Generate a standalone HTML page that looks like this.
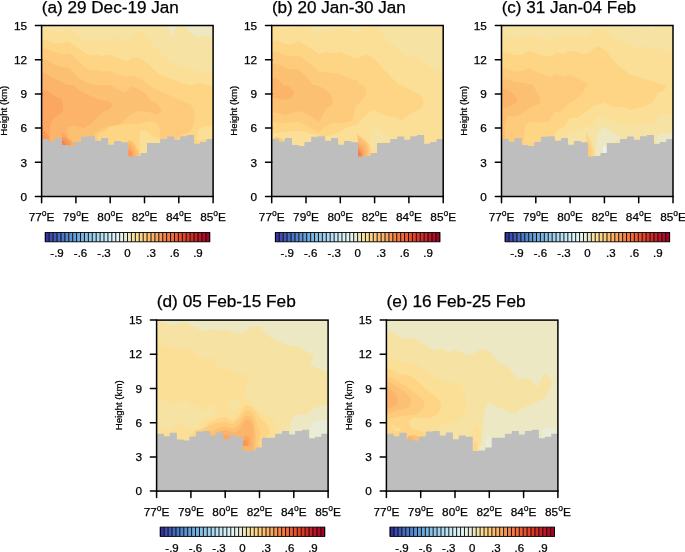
<!DOCTYPE html>
<html><head><meta charset="utf-8"><style>
html,body{margin:0;padding:0;background:#fff;}
svg{display:block;}
text{font-family:"Liberation Sans",Arial,sans-serif;fill:#000;stroke:#000;stroke-width:0.25px;}
.tt{font-size:16px;}
.yl{font-size:11.8px;}
.xl{font-size:11.8px;}
.deg{font-size:8.5px;}
.hl{font-size:9.3px;}
.cl{font-size:10px;}
</style></head><body>
<svg width="685" height="552" viewBox="0 0 685 552">
<rect width="685" height="552" fill="#fff"/>
<g transform="translate(41.6,25.5)">
<clipPath id="clipa"><rect x="0" y="0" width="171.5" height="171.0"/></clipPath>
<g clip-path="url(#clipa)">
<rect x="-2" y="-2" width="175.5" height="175.0" fill="#f6e3a4"/>
<polygon points="125.4,-0.5 125.4,0.8 130.5,11.6 134.3,0.8 134.3,-0.5" fill="#ede8c4"/>
<polygon points="143.2,-0.5 143.2,0.8 150.2,8.4 157.8,11.6 165.4,10.3 174.3,12.2 174.3,-0.5" fill="#ede8c4"/>
<polygon points="-1.2,5.5 1.3,5.2 5.8,4.3 13.4,7.1 21.0,5.9 26.7,2.0 31.2,5.2 37.5,9.7 42.6,13.5 48.3,16.0 54.0,12.8 61.6,15.4 69.3,12.2 74.3,11.6 79.4,14.7 86.4,15.4 90.5,12.8 94.9,6.5 96.8,5.2 101.9,7.8 107.0,14.1 114.6,23.0 121.0,29.3 127.3,35.1 134.9,39.5 142.6,40.1 148.9,43.3 156.5,45.2 164.1,46.5 174.3,48.4 188.4,174.5 -11.6,174.5" fill="#fcdf97"/>
<polygon points="-1.2,14.7 1.3,14.7 5.8,14.5 13.4,17.9 21.0,17.3 26.7,16.0 32.4,19.8 37.5,23.6 42.6,26.8 47.7,30.0 54.0,29.3 61.6,30.6 68.0,28.7 74.3,31.9 80.7,34.4 86.4,35.7 90.5,31.9 96.8,31.9 101.9,34.4 107.0,38.9 112.1,44.0 117.2,48.4 123.5,51.6 129.9,54.1 136.2,55.4 141.3,58.2 150.4,59.7 156.5,57.4 174.7,61.2 188.4,174.5 -11.6,174.5" fill="#fdd584"/>
<polygon points="-1.2,23.0 1.3,23.0 5.8,23.6 13.4,26.8 21.0,28.7 27.3,28.1 32.4,31.3 37.5,36.3 42.6,41.4 48.9,45.2 55.3,44.6 61.6,45.9 68.0,45.2 74.3,48.4 80.7,50.3 86.4,51.6 86.6,50.6 91.2,49.8 98.8,53.6 107.9,59.7 118.5,65.8 129.1,70.3 139.8,74.9 148.9,78.7 152.7,85.5 152.7,94.6 151.1,102.2 147.3,106.7 139.8,109.8 132.2,115.9 108.4,134.5 -11.6,134.5" fill="#fdcb7b"/>
<polygon points="-1.2,33.8 1.3,33.8 5.8,35.1 13.4,39.5 21.0,41.4 27.3,42.0 32.4,47.8 37.5,52.8 42.6,56.0 47.7,57.9 52.7,59.4 68.4,59.7 77.5,64.2 83.6,67.3 89.7,61.2 95.7,62.7 103.3,67.3 109.4,74.9 117.0,79.4 120.0,85.5 115.5,89.3 107.9,87.0 98.8,85.5 89.7,88.5 83.6,94.6 77.5,99.2 68.4,100.7 58.4,104.5 53.4,124.5 -11.6,134.5 -11.6,54.5" fill="#fcc073"/>
<polygon points="-1.2,47.1 1.3,47.1 5.8,49.0 13.4,53.5 19.7,56.0 24.8,59.4 31.1,59.5 37.5,64.6 45.1,68.4 52.7,72.2 60.4,74.7 68.0,76.0 71.2,79.2 68.0,83.6 60.4,87.4 55.3,92.5 50.2,97.6 42.6,102.7 32.4,100.1 26.1,101.4 24.8,105.2 27.4,110.3 22.3,112.8 22.3,124.5 -11.6,134.5 -11.6,44.5" fill="#fcb46a"/>
<polygon points="-1.6,64.7 1.3,64.7 7.0,65.4 13.4,71.1 19.7,73.6 21.6,78.7 21.0,86.3 15.9,90.1 12.1,93.3 9.6,96.5 8.3,102.8 8.9,109.1 7.0,115.5 -11.6,115.5 -11.6,64.5" fill="#fba762"/>
<polygon points="53.4,124.5 53.4,107.5 57.4,105.5 62.4,102.5 68.4,100.5 77.4,99.2 83.6,94.6 89.7,88.5 98.4,85.5 108.4,87.0 115.4,89.5 120.4,86.5 128.4,92.5 133.4,109.5 133.4,124.5" fill="#fdcb7b"/>
<polygon points="55.3,124.5 55.9,107.8 62.9,106.3 68.0,101.2 75.6,99.9 88.3,98.0 93.4,98.5 98.8,97.5 104.4,96.5 110.4,95.5 116.4,98.5 118.4,104.5 118.4,124.5" fill="#fdd584"/>
<polygon points="155.4,114.5 156.4,105.5 161.4,101.5 166.4,100.5 173.4,99.5 173.4,114.5" fill="#fcdf97"/>
<polygon points="97.9,132.5 98.1,110.0 98.8,106.1 102.7,104.4 106.0,106.7 109.3,109.4 113.2,112.0 117.8,113.3 118.9,116.6 118.9,132.5" fill="#fcdf97"/>
<polygon points="20.4,109.0 21.4,107.5 25.4,111.5 30.4,115.5 33.4,120.0 20.4,120.0" fill="#fba762"/>
<polygon points="20.4,112.0 22.4,111.5 25.9,114.5 29.4,120.0 20.4,120.0" fill="#f99856"/>
<polygon points="20.4,115.5 22.4,115.5 24.9,120.0 20.4,120.0" fill="#f4854a"/>
<polygon points="0.4,102.5 3.4,106.5 7.4,111.5 8.4,116.5 0.4,116.5" fill="#f99856"/>
<polygon points="86.6,115.3 88.3,114.6 90.9,116.6 93.5,119.2 95.5,124.5 96.8,128.4 98.1,131.5 86.4,131.5" fill="#fcc073"/>
<polygon points="86.6,117.5 88.9,118.0 91.4,121.0 93.4,125.5 94.9,131.5 86.4,131.5" fill="#fcb46a"/>
<polygon points="86.6,120.5 88.9,121.5 90.9,124.5 92.4,131.5 86.4,131.5" fill="#fba762"/>
<polygon points="86.9,124.5 88.9,125.5 90.4,128.5 90.9,131.5 86.9,131.5" fill="#f99856"/>
<path d="M0,171.0 L0.0,113.6 L7.3,113.6 L7.3,116.2 L13.0,116.2 L13.0,112.6 L20.3,112.6 L20.3,119.4 L27.0,119.4 L27.0,120.4 L32.7,120.4 L32.7,116.5 L39.5,116.5 L39.5,111.3 L46.3,111.3 L46.3,110.8 L53.4,110.8 L53.4,115.3 L59.4,115.3 L59.4,112.5 L66.5,112.5 L66.5,119.2 L72.4,119.2 L72.4,115.5 L79.5,115.5 L79.5,116.7 L86.4,116.7 L86.4,131.0 L92.2,131.0 L92.2,130.4 L98.9,130.4 L98.9,127.4 L105.3,127.4 L105.3,117.6 L118.5,117.6 L118.5,113.6 L125.5,113.6 L125.5,111.0 L132.5,111.0 L132.5,114.3 L138.5,114.3 L138.5,110.8 L145.3,110.8 L145.3,109.6 L152.5,109.6 L152.5,118.2 L158.4,118.2 L158.4,116.6 L164.8,116.6 L164.8,113.6 L171.7,113.6 L171.5,171.0 Z" fill="#bebebe"/>
</g>
<rect x="0" y="0" width="171.5" height="171.0" fill="none" stroke="#000" stroke-width="1.5"/>
<line x1="-6.2" y1="171.00" x2="0" y2="171.00" stroke="#000" stroke-width="1.5" stroke-linecap="round"/>
<text x="-14.6" y="175.20" text-anchor="end" class="yl">0</text>
<line x1="-6.2" y1="136.80" x2="0" y2="136.80" stroke="#000" stroke-width="1.5" stroke-linecap="round"/>
<text x="-14.6" y="141.00" text-anchor="end" class="yl">3</text>
<line x1="-6.2" y1="102.60" x2="0" y2="102.60" stroke="#000" stroke-width="1.5" stroke-linecap="round"/>
<text x="-14.6" y="106.80" text-anchor="end" class="yl">6</text>
<line x1="-6.2" y1="68.40" x2="0" y2="68.40" stroke="#000" stroke-width="1.5" stroke-linecap="round"/>
<text x="-14.6" y="72.60" text-anchor="end" class="yl">9</text>
<line x1="-6.2" y1="34.20" x2="0" y2="34.20" stroke="#000" stroke-width="1.5" stroke-linecap="round"/>
<text x="-14.6" y="38.40" text-anchor="end" class="yl">12</text>
<line x1="-6.2" y1="0.00" x2="0" y2="0.00" stroke="#000" stroke-width="1.5" stroke-linecap="round"/>
<text x="-14.6" y="4.20" text-anchor="end" class="yl">15</text>
<line x1="0.00" y1="171.0" x2="0.00" y2="177.3" stroke="#000" stroke-width="1.5" stroke-linecap="round"/>
<text x="0.00" y="195.5" text-anchor="middle" class="xl">77<tspan class="deg" dy="-5">o</tspan><tspan dy="5">E</tspan></text>
<line x1="34.30" y1="171.0" x2="34.30" y2="177.3" stroke="#000" stroke-width="1.5" stroke-linecap="round"/>
<text x="34.30" y="195.5" text-anchor="middle" class="xl">79<tspan class="deg" dy="-5">o</tspan><tspan dy="5">E</tspan></text>
<line x1="68.60" y1="171.0" x2="68.60" y2="177.3" stroke="#000" stroke-width="1.5" stroke-linecap="round"/>
<text x="68.60" y="195.5" text-anchor="middle" class="xl">80<tspan class="deg" dy="-5">o</tspan><tspan dy="5">E</tspan></text>
<line x1="102.90" y1="171.0" x2="102.90" y2="177.3" stroke="#000" stroke-width="1.5" stroke-linecap="round"/>
<text x="102.90" y="195.5" text-anchor="middle" class="xl">82<tspan class="deg" dy="-5">o</tspan><tspan dy="5">E</tspan></text>
<line x1="137.20" y1="171.0" x2="137.20" y2="177.3" stroke="#000" stroke-width="1.5" stroke-linecap="round"/>
<text x="137.20" y="195.5" text-anchor="middle" class="xl">84<tspan class="deg" dy="-5">o</tspan><tspan dy="5">E</tspan></text>
<line x1="171.50" y1="171.0" x2="171.50" y2="177.3" stroke="#000" stroke-width="1.5" stroke-linecap="round"/>
<text x="171.50" y="195.5" text-anchor="middle" class="xl">85<tspan class="deg" dy="-5">o</tspan><tspan dy="5">E</tspan></text>
<text x="0.2" y="-13" class="tt" textLength="137.0" lengthAdjust="spacingAndGlyphs">(a) 29 Dec-19 Jan</text>
<text transform="translate(-34.3,85.20) rotate(-90)" text-anchor="middle" class="hl" textLength="50" lengthAdjust="spacingAndGlyphs">Height (km)</text>
<rect x="3.70" y="207.0" width="3.96" height="9.3" fill="#3434a4"/>
<rect x="7.61" y="207.0" width="3.96" height="9.3" fill="#3c4cb0"/>
<rect x="11.53" y="207.0" width="3.96" height="9.3" fill="#4058b6"/>
<rect x="15.44" y="207.0" width="3.96" height="9.3" fill="#466abf"/>
<rect x="19.36" y="207.0" width="3.96" height="9.3" fill="#4c78c6"/>
<rect x="23.27" y="207.0" width="3.96" height="9.3" fill="#5386cd"/>
<rect x="27.19" y="207.0" width="3.96" height="9.3" fill="#5a93d4"/>
<rect x="31.10" y="207.0" width="3.96" height="9.3" fill="#63a0d9"/>
<rect x="35.01" y="207.0" width="3.96" height="9.3" fill="#6eabde"/>
<rect x="38.93" y="207.0" width="3.96" height="9.3" fill="#79b6e2"/>
<rect x="42.84" y="207.0" width="3.96" height="9.3" fill="#86c0e6"/>
<rect x="46.76" y="207.0" width="3.96" height="9.3" fill="#92c9ea"/>
<rect x="50.67" y="207.0" width="3.96" height="9.3" fill="#9fd2ee"/>
<rect x="54.59" y="207.0" width="3.96" height="9.3" fill="#acdaf1"/>
<rect x="58.50" y="207.0" width="3.96" height="9.3" fill="#b9e2f4"/>
<rect x="62.41" y="207.0" width="3.96" height="9.3" fill="#c5e9f6"/>
<rect x="66.33" y="207.0" width="3.96" height="9.3" fill="#d0eef7"/>
<rect x="70.24" y="207.0" width="3.96" height="9.3" fill="#daf1f6"/>
<rect x="74.16" y="207.0" width="3.96" height="9.3" fill="#e2f4f3"/>
<rect x="78.07" y="207.0" width="3.96" height="9.3" fill="#e7f3ea"/>
<rect x="81.99" y="207.0" width="3.96" height="9.3" fill="#e9ecd7"/>
<rect x="85.90" y="207.0" width="3.96" height="9.3" fill="#ede8c4"/>
<rect x="89.81" y="207.0" width="3.96" height="9.3" fill="#f6e3a4"/>
<rect x="93.73" y="207.0" width="3.96" height="9.3" fill="#fcdf97"/>
<rect x="97.64" y="207.0" width="3.96" height="9.3" fill="#fdd584"/>
<rect x="101.56" y="207.0" width="3.96" height="9.3" fill="#fdcb7b"/>
<rect x="105.47" y="207.0" width="3.96" height="9.3" fill="#fcc073"/>
<rect x="109.39" y="207.0" width="3.96" height="9.3" fill="#fcb46a"/>
<rect x="113.30" y="207.0" width="3.96" height="9.3" fill="#fba762"/>
<rect x="117.21" y="207.0" width="3.96" height="9.3" fill="#f99856"/>
<rect x="121.13" y="207.0" width="3.96" height="9.3" fill="#f4854a"/>
<rect x="125.04" y="207.0" width="3.96" height="9.3" fill="#f57a44"/>
<rect x="128.96" y="207.0" width="3.96" height="9.3" fill="#f26c3c"/>
<rect x="132.87" y="207.0" width="3.96" height="9.3" fill="#ee5e34"/>
<rect x="136.79" y="207.0" width="3.96" height="9.3" fill="#ea502e"/>
<rect x="140.70" y="207.0" width="3.96" height="9.3" fill="#e4442a"/>
<rect x="144.61" y="207.0" width="3.96" height="9.3" fill="#dc3828"/>
<rect x="148.53" y="207.0" width="3.96" height="9.3" fill="#d22c26"/>
<rect x="152.44" y="207.0" width="3.96" height="9.3" fill="#c82228"/>
<rect x="156.36" y="207.0" width="3.96" height="9.3" fill="#bc1628"/>
<rect x="160.27" y="207.0" width="3.96" height="9.3" fill="#b00c28"/>
<rect x="164.19" y="207.0" width="3.96" height="9.3" fill="#a80024"/>
<line x1="3.70" y1="207.0" x2="3.70" y2="216.3" stroke="#000" stroke-width="0.9"/>
<line x1="7.61" y1="207.0" x2="7.61" y2="216.3" stroke="#000" stroke-width="0.9"/>
<line x1="11.53" y1="207.0" x2="11.53" y2="216.3" stroke="#000" stroke-width="0.9"/>
<line x1="15.44" y1="207.0" x2="15.44" y2="216.3" stroke="#000" stroke-width="0.9"/>
<line x1="19.36" y1="207.0" x2="19.36" y2="216.3" stroke="#000" stroke-width="0.9"/>
<line x1="23.27" y1="207.0" x2="23.27" y2="216.3" stroke="#000" stroke-width="0.9"/>
<line x1="27.19" y1="207.0" x2="27.19" y2="216.3" stroke="#000" stroke-width="0.9"/>
<line x1="31.10" y1="207.0" x2="31.10" y2="216.3" stroke="#000" stroke-width="0.9"/>
<line x1="35.01" y1="207.0" x2="35.01" y2="216.3" stroke="#000" stroke-width="0.9"/>
<line x1="38.93" y1="207.0" x2="38.93" y2="216.3" stroke="#000" stroke-width="0.9"/>
<line x1="42.84" y1="207.0" x2="42.84" y2="216.3" stroke="#000" stroke-width="0.9"/>
<line x1="46.76" y1="207.0" x2="46.76" y2="216.3" stroke="#000" stroke-width="0.9"/>
<line x1="50.67" y1="207.0" x2="50.67" y2="216.3" stroke="#000" stroke-width="0.9"/>
<line x1="54.59" y1="207.0" x2="54.59" y2="216.3" stroke="#000" stroke-width="0.9"/>
<line x1="58.50" y1="207.0" x2="58.50" y2="216.3" stroke="#000" stroke-width="0.9"/>
<line x1="62.41" y1="207.0" x2="62.41" y2="216.3" stroke="#000" stroke-width="0.9"/>
<line x1="66.33" y1="207.0" x2="66.33" y2="216.3" stroke="#000" stroke-width="0.9"/>
<line x1="70.24" y1="207.0" x2="70.24" y2="216.3" stroke="#000" stroke-width="0.9"/>
<line x1="74.16" y1="207.0" x2="74.16" y2="216.3" stroke="#000" stroke-width="0.9"/>
<line x1="78.07" y1="207.0" x2="78.07" y2="216.3" stroke="#000" stroke-width="0.9"/>
<line x1="81.99" y1="207.0" x2="81.99" y2="216.3" stroke="#000" stroke-width="0.9"/>
<line x1="85.90" y1="207.0" x2="85.90" y2="216.3" stroke="#000" stroke-width="0.9"/>
<line x1="89.81" y1="207.0" x2="89.81" y2="216.3" stroke="#000" stroke-width="0.9"/>
<line x1="93.73" y1="207.0" x2="93.73" y2="216.3" stroke="#000" stroke-width="0.9"/>
<line x1="97.64" y1="207.0" x2="97.64" y2="216.3" stroke="#000" stroke-width="0.9"/>
<line x1="101.56" y1="207.0" x2="101.56" y2="216.3" stroke="#000" stroke-width="0.9"/>
<line x1="105.47" y1="207.0" x2="105.47" y2="216.3" stroke="#000" stroke-width="0.9"/>
<line x1="109.39" y1="207.0" x2="109.39" y2="216.3" stroke="#000" stroke-width="0.9"/>
<line x1="113.30" y1="207.0" x2="113.30" y2="216.3" stroke="#000" stroke-width="0.9"/>
<line x1="117.21" y1="207.0" x2="117.21" y2="216.3" stroke="#000" stroke-width="0.9"/>
<line x1="121.13" y1="207.0" x2="121.13" y2="216.3" stroke="#000" stroke-width="0.9"/>
<line x1="125.04" y1="207.0" x2="125.04" y2="216.3" stroke="#000" stroke-width="0.9"/>
<line x1="128.96" y1="207.0" x2="128.96" y2="216.3" stroke="#000" stroke-width="0.9"/>
<line x1="132.87" y1="207.0" x2="132.87" y2="216.3" stroke="#000" stroke-width="0.9"/>
<line x1="136.79" y1="207.0" x2="136.79" y2="216.3" stroke="#000" stroke-width="0.9"/>
<line x1="140.70" y1="207.0" x2="140.70" y2="216.3" stroke="#000" stroke-width="0.9"/>
<line x1="144.61" y1="207.0" x2="144.61" y2="216.3" stroke="#000" stroke-width="0.9"/>
<line x1="148.53" y1="207.0" x2="148.53" y2="216.3" stroke="#000" stroke-width="0.9"/>
<line x1="152.44" y1="207.0" x2="152.44" y2="216.3" stroke="#000" stroke-width="0.9"/>
<line x1="156.36" y1="207.0" x2="156.36" y2="216.3" stroke="#000" stroke-width="0.9"/>
<line x1="160.27" y1="207.0" x2="160.27" y2="216.3" stroke="#000" stroke-width="0.9"/>
<line x1="164.19" y1="207.0" x2="164.19" y2="216.3" stroke="#000" stroke-width="0.9"/>
<line x1="168.10" y1="207.0" x2="168.10" y2="216.3" stroke="#000" stroke-width="0.9"/>
<rect x="3.7" y="207.0" width="164.4" height="9.3" fill="none" stroke="#000" stroke-width="0.9"/>
<text transform="translate(15.44,231.60) scale(1.15,1)" text-anchor="middle" class="cl">-.9</text>
<text transform="translate(38.93,231.60) scale(1.15,1)" text-anchor="middle" class="cl">-.6</text>
<text transform="translate(62.41,231.60) scale(1.15,1)" text-anchor="middle" class="cl">-.3</text>
<text transform="translate(85.90,231.60) scale(1.15,1)" text-anchor="middle" class="cl">0</text>
<text transform="translate(109.39,231.60) scale(1.15,1)" text-anchor="middle" class="cl">.3</text>
<text transform="translate(132.87,231.60) scale(1.15,1)" text-anchor="middle" class="cl">.6</text>
<text transform="translate(156.36,231.60) scale(1.15,1)" text-anchor="middle" class="cl">.9</text>
</g>
<g transform="translate(271.7,25.5)">
<clipPath id="clipb"><rect x="0" y="0" width="171.5" height="171.0"/></clipPath>
<g clip-path="url(#clipb)">
<rect x="-2" y="-2" width="175.5" height="175.0" fill="#f6e3a4"/>
<polygon points="-1.3,1.4 8.2,1.4 14.5,3.9 20.9,1.4 34.9,1.4 41.2,5.2 47.6,9.0 53.9,3.3 61.5,7.1 67.9,3.3 75.5,2.0 83.1,7.1 86.9,6.5 90.4,2.0 105.6,1.4 110.7,8.4 117.1,16.0 125.9,22.4 132.3,28.7 137.4,32.5 142.5,30.0 148.8,33.8 156.4,40.1 162.8,44.0 174.2,45.9 188.3,174.5 -11.7,174.5" fill="#fcdf97"/>
<polygon points="-1.3,15.4 1.2,15.4 6.3,14.7 13.3,18.6 20.9,18.6 27.2,15.4 32.3,18.6 37.4,21.7 42.5,24.9 47.6,28.7 53.9,26.2 61.5,28.1 67.9,26.2 74.2,28.7 80.6,31.9 86.9,32.5 90.4,30.6 95.5,29.3 101.8,32.5 106.9,37.6 112.0,44.0 118.3,50.3 123.4,55.4 127.2,59.4 130.2,59.5 139.7,64.9 149.2,69.0 151.9,74.5 151.2,81.3 145.1,85.3 137.0,89.4 130.2,94.8 123.4,92.1 115.2,90.8 108.4,88.0 103.0,84.0 97.5,86.7 92.1,92.1 85.3,98.9 82.6,100.3 75.5,101.4 67.9,106.5 60.3,109.0 52.6,111.6 47.6,110.3 37.4,107.8 27.2,105.2 13.3,106.5 1.2,107.8 -1.3,107.8" fill="#fdd584"/>
<polygon points="-1.3,26.2 1.2,26.2 6.9,26.8 13.3,30.0 20.9,30.6 27.2,30.0 32.3,33.8 37.4,37.6 42.5,41.4 47.6,45.9 53.9,46.5 61.5,47.8 67.9,48.4 74.2,51.6 80.6,54.1 86.9,55.4 85.3,56.8 90.7,59.5 94.8,63.6 93.5,70.4 88.0,77.2 83.9,81.3 80.6,95.1 70.4,97.6 60.3,97.6 52.6,101.4 47.6,106.5 37.4,101.4 27.2,96.3 13.3,97.6 1.2,96.3 -1.3,96.3" fill="#fdcb7b"/>
<polygon points="-1.3,37.6 1.2,38.2 6.9,38.9 13.3,42.7 20.9,44.0 27.2,44.0 32.3,49.0 37.4,54.1 41.2,59.4 45.0,59.5 52.6,63.3 59.0,68.4 61.5,76.0 59.0,81.1 53.9,83.6 50.1,91.3 47.6,96.3 41.2,92.5 34.9,88.7 27.2,85.5 19.6,87.4 13.3,90.0 6.9,87.4 1.2,86.8 -1.3,86.8" fill="#fcc073"/>
<polygon points="-1.3,52.3 1.2,52.3 5.6,53.6 12.0,59.9 18.3,61.2 22.8,66.3 20.9,71.3 15.8,73.9 9.4,73.9 4.4,72.6 1.2,72.6 -1.3,72.6" fill="#fcb46a"/>
<polygon points="24.7,119.4 26.0,110.3 28.5,107.8 32.3,110.3 33.6,119.4" fill="#fcdf97"/>
<polygon points="65.3,119.4 67.9,109.0 75.5,105.2 86.3,102.7 88.2,119.4" fill="#fcdf97"/>
<polygon points="98.9,122.0 98.9,111.2 100.3,103.0 103.0,100.3 108.4,104.4 115.2,109.8 120.6,112.5 117.9,113.9 105.7,118.0 104.3,122.0" fill="#f6e3a4"/>
<polygon points="1.2,119.4 1.2,112.8 4.4,111.6 9.5,112.8 13.3,115.4 18.4,119.4" fill="#fdcb7b"/>
<polygon points="84.9,107.5 87.8,110.4 92.1,113.3 95.8,117.0 97.9,120.6 98.7,124.9 98.7,132.5 86.6,132.5 86.6,116.8" fill="#fdcb7b"/>
<polygon points="85.6,111.9 86.3,111.9 90.0,114.1 93.6,117.0 95.8,120.6 96.5,124.9 96.5,132.5 86.6,132.5 86.6,116.8" fill="#fcc073"/>
<polygon points="86.2,115.5 86.3,115.5 90.0,117.7 92.9,120.6 94.3,124.2 94.7,132.5 86.6,132.5 86.6,116.8" fill="#fcb46a"/>
<polygon points="84.3,118.4 86.3,118.4 89.2,120.6 91.4,123.5 92.5,127.1 92.9,132.5 84.3,132.5" fill="#fba762"/>
<polygon points="84.3,121.3 86.3,121.3 88.5,123.5 90.3,126.4 91.1,132.5 84.3,132.5" fill="#f99856"/>
<polygon points="84.3,124.2 86.7,124.2 88.2,125.7 89.6,128.6 90.0,132.5 84.3,132.5" fill="#f4854a"/>
<polygon points="84.3,126.4 87.1,126.4 88.5,127.8 89.2,132.5 84.3,132.5" fill="#f57a44"/>
<polygon points="-1.3,59.4 -0.7,59.4" fill="#fdcb7b"/>
<path d="M0,171.0 L0.0,113.6 L7.3,113.6 L7.3,116.2 L13.0,116.2 L13.0,112.6 L20.3,112.6 L20.3,119.4 L27.0,119.4 L27.0,120.4 L32.7,120.4 L32.7,116.5 L39.5,116.5 L39.5,111.3 L46.3,111.3 L46.3,110.8 L53.4,110.8 L53.4,115.3 L59.4,115.3 L59.4,112.5 L66.5,112.5 L66.5,119.2 L72.4,119.2 L72.4,115.5 L79.5,115.5 L79.5,116.7 L86.4,116.7 L86.4,131.0 L92.2,131.0 L92.2,130.4 L98.9,130.4 L98.9,127.4 L105.3,127.4 L105.3,117.6 L118.5,117.6 L118.5,113.6 L125.5,113.6 L125.5,111.0 L132.5,111.0 L132.5,114.3 L138.5,114.3 L138.5,110.8 L145.3,110.8 L145.3,109.6 L152.5,109.6 L152.5,118.2 L158.4,118.2 L158.4,116.6 L164.8,116.6 L164.8,113.6 L171.7,113.6 L171.5,171.0 Z" fill="#bebebe"/>
</g>
<rect x="0" y="0" width="171.5" height="171.0" fill="none" stroke="#000" stroke-width="1.5"/>
<line x1="-6.2" y1="171.00" x2="0" y2="171.00" stroke="#000" stroke-width="1.5" stroke-linecap="round"/>
<text x="-14.6" y="175.20" text-anchor="end" class="yl">0</text>
<line x1="-6.2" y1="136.80" x2="0" y2="136.80" stroke="#000" stroke-width="1.5" stroke-linecap="round"/>
<text x="-14.6" y="141.00" text-anchor="end" class="yl">3</text>
<line x1="-6.2" y1="102.60" x2="0" y2="102.60" stroke="#000" stroke-width="1.5" stroke-linecap="round"/>
<text x="-14.6" y="106.80" text-anchor="end" class="yl">6</text>
<line x1="-6.2" y1="68.40" x2="0" y2="68.40" stroke="#000" stroke-width="1.5" stroke-linecap="round"/>
<text x="-14.6" y="72.60" text-anchor="end" class="yl">9</text>
<line x1="-6.2" y1="34.20" x2="0" y2="34.20" stroke="#000" stroke-width="1.5" stroke-linecap="round"/>
<text x="-14.6" y="38.40" text-anchor="end" class="yl">12</text>
<line x1="-6.2" y1="0.00" x2="0" y2="0.00" stroke="#000" stroke-width="1.5" stroke-linecap="round"/>
<text x="-14.6" y="4.20" text-anchor="end" class="yl">15</text>
<line x1="0.00" y1="171.0" x2="0.00" y2="177.3" stroke="#000" stroke-width="1.5" stroke-linecap="round"/>
<text x="0.00" y="195.5" text-anchor="middle" class="xl">77<tspan class="deg" dy="-5">o</tspan><tspan dy="5">E</tspan></text>
<line x1="34.30" y1="171.0" x2="34.30" y2="177.3" stroke="#000" stroke-width="1.5" stroke-linecap="round"/>
<text x="34.30" y="195.5" text-anchor="middle" class="xl">79<tspan class="deg" dy="-5">o</tspan><tspan dy="5">E</tspan></text>
<line x1="68.60" y1="171.0" x2="68.60" y2="177.3" stroke="#000" stroke-width="1.5" stroke-linecap="round"/>
<text x="68.60" y="195.5" text-anchor="middle" class="xl">80<tspan class="deg" dy="-5">o</tspan><tspan dy="5">E</tspan></text>
<line x1="102.90" y1="171.0" x2="102.90" y2="177.3" stroke="#000" stroke-width="1.5" stroke-linecap="round"/>
<text x="102.90" y="195.5" text-anchor="middle" class="xl">82<tspan class="deg" dy="-5">o</tspan><tspan dy="5">E</tspan></text>
<line x1="137.20" y1="171.0" x2="137.20" y2="177.3" stroke="#000" stroke-width="1.5" stroke-linecap="round"/>
<text x="137.20" y="195.5" text-anchor="middle" class="xl">84<tspan class="deg" dy="-5">o</tspan><tspan dy="5">E</tspan></text>
<line x1="171.50" y1="171.0" x2="171.50" y2="177.3" stroke="#000" stroke-width="1.5" stroke-linecap="round"/>
<text x="171.50" y="195.5" text-anchor="middle" class="xl">85<tspan class="deg" dy="-5">o</tspan><tspan dy="5">E</tspan></text>
<text x="0.2" y="-13" class="tt" textLength="133.8" lengthAdjust="spacingAndGlyphs">(b) 20 Jan-30 Jan</text>
<text transform="translate(-34.3,85.20) rotate(-90)" text-anchor="middle" class="hl" textLength="50" lengthAdjust="spacingAndGlyphs">Height (km)</text>
<rect x="3.70" y="207.0" width="3.96" height="9.3" fill="#3434a4"/>
<rect x="7.61" y="207.0" width="3.96" height="9.3" fill="#3c4cb0"/>
<rect x="11.53" y="207.0" width="3.96" height="9.3" fill="#4058b6"/>
<rect x="15.44" y="207.0" width="3.96" height="9.3" fill="#466abf"/>
<rect x="19.36" y="207.0" width="3.96" height="9.3" fill="#4c78c6"/>
<rect x="23.27" y="207.0" width="3.96" height="9.3" fill="#5386cd"/>
<rect x="27.19" y="207.0" width="3.96" height="9.3" fill="#5a93d4"/>
<rect x="31.10" y="207.0" width="3.96" height="9.3" fill="#63a0d9"/>
<rect x="35.01" y="207.0" width="3.96" height="9.3" fill="#6eabde"/>
<rect x="38.93" y="207.0" width="3.96" height="9.3" fill="#79b6e2"/>
<rect x="42.84" y="207.0" width="3.96" height="9.3" fill="#86c0e6"/>
<rect x="46.76" y="207.0" width="3.96" height="9.3" fill="#92c9ea"/>
<rect x="50.67" y="207.0" width="3.96" height="9.3" fill="#9fd2ee"/>
<rect x="54.59" y="207.0" width="3.96" height="9.3" fill="#acdaf1"/>
<rect x="58.50" y="207.0" width="3.96" height="9.3" fill="#b9e2f4"/>
<rect x="62.41" y="207.0" width="3.96" height="9.3" fill="#c5e9f6"/>
<rect x="66.33" y="207.0" width="3.96" height="9.3" fill="#d0eef7"/>
<rect x="70.24" y="207.0" width="3.96" height="9.3" fill="#daf1f6"/>
<rect x="74.16" y="207.0" width="3.96" height="9.3" fill="#e2f4f3"/>
<rect x="78.07" y="207.0" width="3.96" height="9.3" fill="#e7f3ea"/>
<rect x="81.99" y="207.0" width="3.96" height="9.3" fill="#e9ecd7"/>
<rect x="85.90" y="207.0" width="3.96" height="9.3" fill="#ede8c4"/>
<rect x="89.81" y="207.0" width="3.96" height="9.3" fill="#f6e3a4"/>
<rect x="93.73" y="207.0" width="3.96" height="9.3" fill="#fcdf97"/>
<rect x="97.64" y="207.0" width="3.96" height="9.3" fill="#fdd584"/>
<rect x="101.56" y="207.0" width="3.96" height="9.3" fill="#fdcb7b"/>
<rect x="105.47" y="207.0" width="3.96" height="9.3" fill="#fcc073"/>
<rect x="109.39" y="207.0" width="3.96" height="9.3" fill="#fcb46a"/>
<rect x="113.30" y="207.0" width="3.96" height="9.3" fill="#fba762"/>
<rect x="117.21" y="207.0" width="3.96" height="9.3" fill="#f99856"/>
<rect x="121.13" y="207.0" width="3.96" height="9.3" fill="#f4854a"/>
<rect x="125.04" y="207.0" width="3.96" height="9.3" fill="#f57a44"/>
<rect x="128.96" y="207.0" width="3.96" height="9.3" fill="#f26c3c"/>
<rect x="132.87" y="207.0" width="3.96" height="9.3" fill="#ee5e34"/>
<rect x="136.79" y="207.0" width="3.96" height="9.3" fill="#ea502e"/>
<rect x="140.70" y="207.0" width="3.96" height="9.3" fill="#e4442a"/>
<rect x="144.61" y="207.0" width="3.96" height="9.3" fill="#dc3828"/>
<rect x="148.53" y="207.0" width="3.96" height="9.3" fill="#d22c26"/>
<rect x="152.44" y="207.0" width="3.96" height="9.3" fill="#c82228"/>
<rect x="156.36" y="207.0" width="3.96" height="9.3" fill="#bc1628"/>
<rect x="160.27" y="207.0" width="3.96" height="9.3" fill="#b00c28"/>
<rect x="164.19" y="207.0" width="3.96" height="9.3" fill="#a80024"/>
<line x1="3.70" y1="207.0" x2="3.70" y2="216.3" stroke="#000" stroke-width="0.9"/>
<line x1="7.61" y1="207.0" x2="7.61" y2="216.3" stroke="#000" stroke-width="0.9"/>
<line x1="11.53" y1="207.0" x2="11.53" y2="216.3" stroke="#000" stroke-width="0.9"/>
<line x1="15.44" y1="207.0" x2="15.44" y2="216.3" stroke="#000" stroke-width="0.9"/>
<line x1="19.36" y1="207.0" x2="19.36" y2="216.3" stroke="#000" stroke-width="0.9"/>
<line x1="23.27" y1="207.0" x2="23.27" y2="216.3" stroke="#000" stroke-width="0.9"/>
<line x1="27.19" y1="207.0" x2="27.19" y2="216.3" stroke="#000" stroke-width="0.9"/>
<line x1="31.10" y1="207.0" x2="31.10" y2="216.3" stroke="#000" stroke-width="0.9"/>
<line x1="35.01" y1="207.0" x2="35.01" y2="216.3" stroke="#000" stroke-width="0.9"/>
<line x1="38.93" y1="207.0" x2="38.93" y2="216.3" stroke="#000" stroke-width="0.9"/>
<line x1="42.84" y1="207.0" x2="42.84" y2="216.3" stroke="#000" stroke-width="0.9"/>
<line x1="46.76" y1="207.0" x2="46.76" y2="216.3" stroke="#000" stroke-width="0.9"/>
<line x1="50.67" y1="207.0" x2="50.67" y2="216.3" stroke="#000" stroke-width="0.9"/>
<line x1="54.59" y1="207.0" x2="54.59" y2="216.3" stroke="#000" stroke-width="0.9"/>
<line x1="58.50" y1="207.0" x2="58.50" y2="216.3" stroke="#000" stroke-width="0.9"/>
<line x1="62.41" y1="207.0" x2="62.41" y2="216.3" stroke="#000" stroke-width="0.9"/>
<line x1="66.33" y1="207.0" x2="66.33" y2="216.3" stroke="#000" stroke-width="0.9"/>
<line x1="70.24" y1="207.0" x2="70.24" y2="216.3" stroke="#000" stroke-width="0.9"/>
<line x1="74.16" y1="207.0" x2="74.16" y2="216.3" stroke="#000" stroke-width="0.9"/>
<line x1="78.07" y1="207.0" x2="78.07" y2="216.3" stroke="#000" stroke-width="0.9"/>
<line x1="81.99" y1="207.0" x2="81.99" y2="216.3" stroke="#000" stroke-width="0.9"/>
<line x1="85.90" y1="207.0" x2="85.90" y2="216.3" stroke="#000" stroke-width="0.9"/>
<line x1="89.81" y1="207.0" x2="89.81" y2="216.3" stroke="#000" stroke-width="0.9"/>
<line x1="93.73" y1="207.0" x2="93.73" y2="216.3" stroke="#000" stroke-width="0.9"/>
<line x1="97.64" y1="207.0" x2="97.64" y2="216.3" stroke="#000" stroke-width="0.9"/>
<line x1="101.56" y1="207.0" x2="101.56" y2="216.3" stroke="#000" stroke-width="0.9"/>
<line x1="105.47" y1="207.0" x2="105.47" y2="216.3" stroke="#000" stroke-width="0.9"/>
<line x1="109.39" y1="207.0" x2="109.39" y2="216.3" stroke="#000" stroke-width="0.9"/>
<line x1="113.30" y1="207.0" x2="113.30" y2="216.3" stroke="#000" stroke-width="0.9"/>
<line x1="117.21" y1="207.0" x2="117.21" y2="216.3" stroke="#000" stroke-width="0.9"/>
<line x1="121.13" y1="207.0" x2="121.13" y2="216.3" stroke="#000" stroke-width="0.9"/>
<line x1="125.04" y1="207.0" x2="125.04" y2="216.3" stroke="#000" stroke-width="0.9"/>
<line x1="128.96" y1="207.0" x2="128.96" y2="216.3" stroke="#000" stroke-width="0.9"/>
<line x1="132.87" y1="207.0" x2="132.87" y2="216.3" stroke="#000" stroke-width="0.9"/>
<line x1="136.79" y1="207.0" x2="136.79" y2="216.3" stroke="#000" stroke-width="0.9"/>
<line x1="140.70" y1="207.0" x2="140.70" y2="216.3" stroke="#000" stroke-width="0.9"/>
<line x1="144.61" y1="207.0" x2="144.61" y2="216.3" stroke="#000" stroke-width="0.9"/>
<line x1="148.53" y1="207.0" x2="148.53" y2="216.3" stroke="#000" stroke-width="0.9"/>
<line x1="152.44" y1="207.0" x2="152.44" y2="216.3" stroke="#000" stroke-width="0.9"/>
<line x1="156.36" y1="207.0" x2="156.36" y2="216.3" stroke="#000" stroke-width="0.9"/>
<line x1="160.27" y1="207.0" x2="160.27" y2="216.3" stroke="#000" stroke-width="0.9"/>
<line x1="164.19" y1="207.0" x2="164.19" y2="216.3" stroke="#000" stroke-width="0.9"/>
<line x1="168.10" y1="207.0" x2="168.10" y2="216.3" stroke="#000" stroke-width="0.9"/>
<rect x="3.7" y="207.0" width="164.4" height="9.3" fill="none" stroke="#000" stroke-width="0.9"/>
<text transform="translate(15.44,231.60) scale(1.15,1)" text-anchor="middle" class="cl">-.9</text>
<text transform="translate(38.93,231.60) scale(1.15,1)" text-anchor="middle" class="cl">-.6</text>
<text transform="translate(62.41,231.60) scale(1.15,1)" text-anchor="middle" class="cl">-.3</text>
<text transform="translate(85.90,231.60) scale(1.15,1)" text-anchor="middle" class="cl">0</text>
<text transform="translate(109.39,231.60) scale(1.15,1)" text-anchor="middle" class="cl">.3</text>
<text transform="translate(132.87,231.60) scale(1.15,1)" text-anchor="middle" class="cl">.6</text>
<text transform="translate(156.36,231.60) scale(1.15,1)" text-anchor="middle" class="cl">.9</text>
</g>
<g transform="translate(501.5,25.5)">
<clipPath id="clipc"><rect x="0" y="0" width="171.5" height="171.0"/></clipPath>
<g clip-path="url(#clipc)">
<rect x="-2" y="-2" width="175.5" height="175.0" fill="#f6e3a4"/>
<polygon points="127.4,-0.5 127.4,1.4 130.6,2.3 133.8,1.4 133.8,-0.5" fill="#ede8c4"/>
<polygon points="146.5,-0.5 146.5,1.4 150.3,3.3 152.8,1.4 152.8,-0.5" fill="#ede8c4"/>
<polygon points="-1.1,12.2 1.4,12.2 6.5,11.6 13.5,14.1 21.1,11.6 27.4,8.4 33.8,10.9 41.4,13.5 47.8,14.1 55.4,9.7 61.7,11.6 68.7,7.8 75.7,9.7 82.1,10.3 87.1,9.0 90.6,5.2 95.7,3.3 102.0,3.9 107.1,8.4 113.4,12.2 119.8,14.7 126.1,18.6 131.2,21.1 136.3,21.7 142.7,20.5 149.0,22.4 154.1,23.0 161.7,23.6 166.8,24.9 174.4,26.2 188.5,174.5 -21.5,174.5" fill="#fcdf97"/>
<polygon points="-1.1,27.4 1.4,27.4 6.5,26.8 13.5,30.0 21.1,28.7 27.4,24.9 33.8,27.4 41.4,30.0 47.8,31.3 55.4,26.8 61.7,28.7 68.7,24.9 75.7,26.8 82.1,28.7 87.1,27.4 90.6,24.3 95.7,20.5 100.7,22.4 105.8,26.8 110.9,33.8 116.0,38.9 122.3,44.0 128.7,49.0 136.3,51.6 142.7,52.8 149.0,55.4 156.6,57.9 166.8,59.4 164.3,59.5 163.0,64.9 156.2,67.7 152.1,75.8 145.3,79.9 137.2,82.6 129.0,84.6 119.5,81.3 110.0,81.3 103.2,77.2 93.7,79.9 85.5,85.3 86.5,84.9 75.7,92.5 68.1,92.5 63.0,101.4 56.7,104.0 52.8,109.0 50.3,112.8 47.8,119.4 47.8,125.5 -21.5,174.5" fill="#fdd584"/>
<polygon points="-1.1,43.3 1.4,43.3 6.5,43.3 13.5,46.5 21.1,45.2 27.4,42.7 33.8,45.9 41.4,49.0 47.8,51.6 55.4,48.4 61.7,50.9 68.7,49.0 75.7,52.8 82.1,56.0 87.1,57.9 83.3,63.3 78.2,70.9 66.8,78.6 59.2,86.2 52.8,86.2 47.8,96.3 37.6,97.0 27.4,96.3 23.6,101.4 22.4,112.8 21.1,125.5 -21.5,174.5" fill="#fdcb7b"/>
<polygon points="-1.1,54.1 1.4,54.1 6.5,54.1 13.5,56.7 21.1,57.3 27.4,58.6 31.3,59.4 35.1,65.9 38.9,72.2 37.6,78.6 31.3,81.1 24.9,84.9 18.6,88.7 12.2,91.3 7.1,90.0 4.6,95.1 3.3,101.4 3.3,110.3 4.6,114.1 5.2,125.5 -21.5,174.5" fill="#fcc073"/>
<polygon points="-1.1,63.3 1.4,63.3 7.1,64.6 13.5,69.7 16.0,74.7 13.5,78.6 7.1,81.1 1.4,82.4 -1.1,82.4" fill="#fcb46a"/>
<polygon points="84.8,135.6 85.5,108.4 89.6,104.4 96.4,90.8 104.5,93.5 112.7,96.2 120.8,98.9 129.0,101.6 137.2,100.3 145.3,98.9 153.5,96.2 157.6,90.8 164.3,88.7 180.7,88.7 180.7,135.6" fill="#f6e3a4"/>
<polygon points="64.9,119.4 65.2,112.8 66.6,106.2 73.2,105.0 81.0,103.7 86.2,100.9 89.5,99.6 89.5,130.6 64.9,130.6" fill="#f6e3a4"/>
<polygon points="93.7,135.6 95.0,113.9 97.7,105.7 101.8,101.6 108.6,105.7 115.4,109.8 120.8,112.5 112.7,116.6 105.9,119.3 104.5,135.6" fill="#ede8c4"/>
<polygon points="153.5,120.7 156.2,109.8 161.6,108.4 170.5,107.8 180.7,107.1 180.7,120.7" fill="#ede8c4"/>
<polygon points="101.1,130.2 101.5,122.0 103.2,119.3 105.2,123.4 105.6,130.2" fill="#e7f3ea"/>
<polygon points="84.8,135.6 84.8,107.1 86.9,111.2 89.6,116.6 91.6,123.4 93.0,135.6" fill="#fdd584"/>
<polygon points="85.5,135.6 86.2,119.3 87.5,118.0 88.9,123.4 90.3,135.6" fill="#fdcb7b"/>
<polygon points="18.6,119.4 19.2,100.1 20.5,101.4 21.1,110.3 21.7,119.4" fill="#fdcb7b"/>
<path d="M0,171.0 L0.0,113.6 L7.3,113.6 L7.3,116.2 L13.0,116.2 L13.0,112.6 L20.3,112.6 L20.3,119.4 L27.0,119.4 L27.0,120.4 L32.7,120.4 L32.7,116.5 L39.5,116.5 L39.5,111.3 L46.3,111.3 L46.3,110.8 L53.4,110.8 L53.4,115.3 L59.4,115.3 L59.4,112.5 L66.5,112.5 L66.5,119.2 L72.4,119.2 L72.4,115.5 L79.5,115.5 L79.5,116.7 L86.4,116.7 L86.4,131.0 L92.2,131.0 L92.2,130.4 L98.9,130.4 L98.9,127.4 L105.3,127.4 L105.3,117.6 L118.5,117.6 L118.5,113.6 L125.5,113.6 L125.5,111.0 L132.5,111.0 L132.5,114.3 L138.5,114.3 L138.5,110.8 L145.3,110.8 L145.3,109.6 L152.5,109.6 L152.5,118.2 L158.4,118.2 L158.4,116.6 L164.8,116.6 L164.8,113.6 L171.7,113.6 L171.5,171.0 Z" fill="#bebebe"/>
</g>
<rect x="0" y="0" width="171.5" height="171.0" fill="none" stroke="#000" stroke-width="1.5"/>
<line x1="-6.2" y1="171.00" x2="0" y2="171.00" stroke="#000" stroke-width="1.5" stroke-linecap="round"/>
<text x="-14.6" y="175.20" text-anchor="end" class="yl">0</text>
<line x1="-6.2" y1="136.80" x2="0" y2="136.80" stroke="#000" stroke-width="1.5" stroke-linecap="round"/>
<text x="-14.6" y="141.00" text-anchor="end" class="yl">3</text>
<line x1="-6.2" y1="102.60" x2="0" y2="102.60" stroke="#000" stroke-width="1.5" stroke-linecap="round"/>
<text x="-14.6" y="106.80" text-anchor="end" class="yl">6</text>
<line x1="-6.2" y1="68.40" x2="0" y2="68.40" stroke="#000" stroke-width="1.5" stroke-linecap="round"/>
<text x="-14.6" y="72.60" text-anchor="end" class="yl">9</text>
<line x1="-6.2" y1="34.20" x2="0" y2="34.20" stroke="#000" stroke-width="1.5" stroke-linecap="round"/>
<text x="-14.6" y="38.40" text-anchor="end" class="yl">12</text>
<line x1="-6.2" y1="0.00" x2="0" y2="0.00" stroke="#000" stroke-width="1.5" stroke-linecap="round"/>
<text x="-14.6" y="4.20" text-anchor="end" class="yl">15</text>
<line x1="0.00" y1="171.0" x2="0.00" y2="177.3" stroke="#000" stroke-width="1.5" stroke-linecap="round"/>
<text x="0.00" y="195.5" text-anchor="middle" class="xl">77<tspan class="deg" dy="-5">o</tspan><tspan dy="5">E</tspan></text>
<line x1="34.30" y1="171.0" x2="34.30" y2="177.3" stroke="#000" stroke-width="1.5" stroke-linecap="round"/>
<text x="34.30" y="195.5" text-anchor="middle" class="xl">79<tspan class="deg" dy="-5">o</tspan><tspan dy="5">E</tspan></text>
<line x1="68.60" y1="171.0" x2="68.60" y2="177.3" stroke="#000" stroke-width="1.5" stroke-linecap="round"/>
<text x="68.60" y="195.5" text-anchor="middle" class="xl">80<tspan class="deg" dy="-5">o</tspan><tspan dy="5">E</tspan></text>
<line x1="102.90" y1="171.0" x2="102.90" y2="177.3" stroke="#000" stroke-width="1.5" stroke-linecap="round"/>
<text x="102.90" y="195.5" text-anchor="middle" class="xl">82<tspan class="deg" dy="-5">o</tspan><tspan dy="5">E</tspan></text>
<line x1="137.20" y1="171.0" x2="137.20" y2="177.3" stroke="#000" stroke-width="1.5" stroke-linecap="round"/>
<text x="137.20" y="195.5" text-anchor="middle" class="xl">84<tspan class="deg" dy="-5">o</tspan><tspan dy="5">E</tspan></text>
<line x1="171.50" y1="171.0" x2="171.50" y2="177.3" stroke="#000" stroke-width="1.5" stroke-linecap="round"/>
<text x="171.50" y="195.5" text-anchor="middle" class="xl">85<tspan class="deg" dy="-5">o</tspan><tspan dy="5">E</tspan></text>
<text x="0.2" y="-13" class="tt" textLength="134.4" lengthAdjust="spacingAndGlyphs">(c) 31 Jan-04 Feb</text>
<text transform="translate(-34.3,85.20) rotate(-90)" text-anchor="middle" class="hl" textLength="50" lengthAdjust="spacingAndGlyphs">Height (km)</text>
<rect x="3.70" y="207.0" width="3.96" height="9.3" fill="#3434a4"/>
<rect x="7.61" y="207.0" width="3.96" height="9.3" fill="#3c4cb0"/>
<rect x="11.53" y="207.0" width="3.96" height="9.3" fill="#4058b6"/>
<rect x="15.44" y="207.0" width="3.96" height="9.3" fill="#466abf"/>
<rect x="19.36" y="207.0" width="3.96" height="9.3" fill="#4c78c6"/>
<rect x="23.27" y="207.0" width="3.96" height="9.3" fill="#5386cd"/>
<rect x="27.19" y="207.0" width="3.96" height="9.3" fill="#5a93d4"/>
<rect x="31.10" y="207.0" width="3.96" height="9.3" fill="#63a0d9"/>
<rect x="35.01" y="207.0" width="3.96" height="9.3" fill="#6eabde"/>
<rect x="38.93" y="207.0" width="3.96" height="9.3" fill="#79b6e2"/>
<rect x="42.84" y="207.0" width="3.96" height="9.3" fill="#86c0e6"/>
<rect x="46.76" y="207.0" width="3.96" height="9.3" fill="#92c9ea"/>
<rect x="50.67" y="207.0" width="3.96" height="9.3" fill="#9fd2ee"/>
<rect x="54.59" y="207.0" width="3.96" height="9.3" fill="#acdaf1"/>
<rect x="58.50" y="207.0" width="3.96" height="9.3" fill="#b9e2f4"/>
<rect x="62.41" y="207.0" width="3.96" height="9.3" fill="#c5e9f6"/>
<rect x="66.33" y="207.0" width="3.96" height="9.3" fill="#d0eef7"/>
<rect x="70.24" y="207.0" width="3.96" height="9.3" fill="#daf1f6"/>
<rect x="74.16" y="207.0" width="3.96" height="9.3" fill="#e2f4f3"/>
<rect x="78.07" y="207.0" width="3.96" height="9.3" fill="#e7f3ea"/>
<rect x="81.99" y="207.0" width="3.96" height="9.3" fill="#e9ecd7"/>
<rect x="85.90" y="207.0" width="3.96" height="9.3" fill="#ede8c4"/>
<rect x="89.81" y="207.0" width="3.96" height="9.3" fill="#f6e3a4"/>
<rect x="93.73" y="207.0" width="3.96" height="9.3" fill="#fcdf97"/>
<rect x="97.64" y="207.0" width="3.96" height="9.3" fill="#fdd584"/>
<rect x="101.56" y="207.0" width="3.96" height="9.3" fill="#fdcb7b"/>
<rect x="105.47" y="207.0" width="3.96" height="9.3" fill="#fcc073"/>
<rect x="109.39" y="207.0" width="3.96" height="9.3" fill="#fcb46a"/>
<rect x="113.30" y="207.0" width="3.96" height="9.3" fill="#fba762"/>
<rect x="117.21" y="207.0" width="3.96" height="9.3" fill="#f99856"/>
<rect x="121.13" y="207.0" width="3.96" height="9.3" fill="#f4854a"/>
<rect x="125.04" y="207.0" width="3.96" height="9.3" fill="#f57a44"/>
<rect x="128.96" y="207.0" width="3.96" height="9.3" fill="#f26c3c"/>
<rect x="132.87" y="207.0" width="3.96" height="9.3" fill="#ee5e34"/>
<rect x="136.79" y="207.0" width="3.96" height="9.3" fill="#ea502e"/>
<rect x="140.70" y="207.0" width="3.96" height="9.3" fill="#e4442a"/>
<rect x="144.61" y="207.0" width="3.96" height="9.3" fill="#dc3828"/>
<rect x="148.53" y="207.0" width="3.96" height="9.3" fill="#d22c26"/>
<rect x="152.44" y="207.0" width="3.96" height="9.3" fill="#c82228"/>
<rect x="156.36" y="207.0" width="3.96" height="9.3" fill="#bc1628"/>
<rect x="160.27" y="207.0" width="3.96" height="9.3" fill="#b00c28"/>
<rect x="164.19" y="207.0" width="3.96" height="9.3" fill="#a80024"/>
<line x1="3.70" y1="207.0" x2="3.70" y2="216.3" stroke="#000" stroke-width="0.9"/>
<line x1="7.61" y1="207.0" x2="7.61" y2="216.3" stroke="#000" stroke-width="0.9"/>
<line x1="11.53" y1="207.0" x2="11.53" y2="216.3" stroke="#000" stroke-width="0.9"/>
<line x1="15.44" y1="207.0" x2="15.44" y2="216.3" stroke="#000" stroke-width="0.9"/>
<line x1="19.36" y1="207.0" x2="19.36" y2="216.3" stroke="#000" stroke-width="0.9"/>
<line x1="23.27" y1="207.0" x2="23.27" y2="216.3" stroke="#000" stroke-width="0.9"/>
<line x1="27.19" y1="207.0" x2="27.19" y2="216.3" stroke="#000" stroke-width="0.9"/>
<line x1="31.10" y1="207.0" x2="31.10" y2="216.3" stroke="#000" stroke-width="0.9"/>
<line x1="35.01" y1="207.0" x2="35.01" y2="216.3" stroke="#000" stroke-width="0.9"/>
<line x1="38.93" y1="207.0" x2="38.93" y2="216.3" stroke="#000" stroke-width="0.9"/>
<line x1="42.84" y1="207.0" x2="42.84" y2="216.3" stroke="#000" stroke-width="0.9"/>
<line x1="46.76" y1="207.0" x2="46.76" y2="216.3" stroke="#000" stroke-width="0.9"/>
<line x1="50.67" y1="207.0" x2="50.67" y2="216.3" stroke="#000" stroke-width="0.9"/>
<line x1="54.59" y1="207.0" x2="54.59" y2="216.3" stroke="#000" stroke-width="0.9"/>
<line x1="58.50" y1="207.0" x2="58.50" y2="216.3" stroke="#000" stroke-width="0.9"/>
<line x1="62.41" y1="207.0" x2="62.41" y2="216.3" stroke="#000" stroke-width="0.9"/>
<line x1="66.33" y1="207.0" x2="66.33" y2="216.3" stroke="#000" stroke-width="0.9"/>
<line x1="70.24" y1="207.0" x2="70.24" y2="216.3" stroke="#000" stroke-width="0.9"/>
<line x1="74.16" y1="207.0" x2="74.16" y2="216.3" stroke="#000" stroke-width="0.9"/>
<line x1="78.07" y1="207.0" x2="78.07" y2="216.3" stroke="#000" stroke-width="0.9"/>
<line x1="81.99" y1="207.0" x2="81.99" y2="216.3" stroke="#000" stroke-width="0.9"/>
<line x1="85.90" y1="207.0" x2="85.90" y2="216.3" stroke="#000" stroke-width="0.9"/>
<line x1="89.81" y1="207.0" x2="89.81" y2="216.3" stroke="#000" stroke-width="0.9"/>
<line x1="93.73" y1="207.0" x2="93.73" y2="216.3" stroke="#000" stroke-width="0.9"/>
<line x1="97.64" y1="207.0" x2="97.64" y2="216.3" stroke="#000" stroke-width="0.9"/>
<line x1="101.56" y1="207.0" x2="101.56" y2="216.3" stroke="#000" stroke-width="0.9"/>
<line x1="105.47" y1="207.0" x2="105.47" y2="216.3" stroke="#000" stroke-width="0.9"/>
<line x1="109.39" y1="207.0" x2="109.39" y2="216.3" stroke="#000" stroke-width="0.9"/>
<line x1="113.30" y1="207.0" x2="113.30" y2="216.3" stroke="#000" stroke-width="0.9"/>
<line x1="117.21" y1="207.0" x2="117.21" y2="216.3" stroke="#000" stroke-width="0.9"/>
<line x1="121.13" y1="207.0" x2="121.13" y2="216.3" stroke="#000" stroke-width="0.9"/>
<line x1="125.04" y1="207.0" x2="125.04" y2="216.3" stroke="#000" stroke-width="0.9"/>
<line x1="128.96" y1="207.0" x2="128.96" y2="216.3" stroke="#000" stroke-width="0.9"/>
<line x1="132.87" y1="207.0" x2="132.87" y2="216.3" stroke="#000" stroke-width="0.9"/>
<line x1="136.79" y1="207.0" x2="136.79" y2="216.3" stroke="#000" stroke-width="0.9"/>
<line x1="140.70" y1="207.0" x2="140.70" y2="216.3" stroke="#000" stroke-width="0.9"/>
<line x1="144.61" y1="207.0" x2="144.61" y2="216.3" stroke="#000" stroke-width="0.9"/>
<line x1="148.53" y1="207.0" x2="148.53" y2="216.3" stroke="#000" stroke-width="0.9"/>
<line x1="152.44" y1="207.0" x2="152.44" y2="216.3" stroke="#000" stroke-width="0.9"/>
<line x1="156.36" y1="207.0" x2="156.36" y2="216.3" stroke="#000" stroke-width="0.9"/>
<line x1="160.27" y1="207.0" x2="160.27" y2="216.3" stroke="#000" stroke-width="0.9"/>
<line x1="164.19" y1="207.0" x2="164.19" y2="216.3" stroke="#000" stroke-width="0.9"/>
<line x1="168.10" y1="207.0" x2="168.10" y2="216.3" stroke="#000" stroke-width="0.9"/>
<rect x="3.7" y="207.0" width="164.4" height="9.3" fill="none" stroke="#000" stroke-width="0.9"/>
<text transform="translate(15.44,231.60) scale(1.15,1)" text-anchor="middle" class="cl">-.9</text>
<text transform="translate(38.93,231.60) scale(1.15,1)" text-anchor="middle" class="cl">-.6</text>
<text transform="translate(62.41,231.60) scale(1.15,1)" text-anchor="middle" class="cl">-.3</text>
<text transform="translate(85.90,231.60) scale(1.15,1)" text-anchor="middle" class="cl">0</text>
<text transform="translate(109.39,231.60) scale(1.15,1)" text-anchor="middle" class="cl">.3</text>
<text transform="translate(132.87,231.60) scale(1.15,1)" text-anchor="middle" class="cl">.6</text>
<text transform="translate(156.36,231.60) scale(1.15,1)" text-anchor="middle" class="cl">.9</text>
</g>
<g transform="translate(156.6,320.1)">
<clipPath id="clipd"><rect x="0" y="0" width="171.5" height="171.0"/></clipPath>
<g clip-path="url(#clipd)">
<rect x="-2" y="-2" width="175.5" height="175.0" fill="#ede8c4"/>
<polygon points="-1.2,1.8 5.8,1.8 14.6,5.0 21.0,3.7 27.3,1.8 35.0,5.6 41.3,8.8 47.7,12.0 55.3,8.2 61.6,11.3 68.6,8.8 75.6,11.3 82.0,13.2 87.0,12.0 91.8,8.8 98.1,6.3 103.2,6.3 108.3,12.6 114.6,17.7 122.2,20.9 129.9,24.7 136.2,25.9 143.8,26.6 148.9,30.4 157.2,35.5 154.0,41.8 154.0,45.0 161.6,48.2 169.2,50.7 174.3,52.0 183.4,179.9 -16.6,179.9" fill="#f6e3a4"/>
<polygon points="-1.2,24.7 1.3,24.7 6.4,24.0 13.4,28.5 21.0,28.5 26.7,26.6 32.4,29.7 37.5,32.9 42.6,36.1 47.7,39.3 54.0,37.4 57.8,39.3 61.6,49.4 68.0,47.5 75.6,50.7 82.0,53.9 87.0,54.5 90.5,54.5 93.0,59.8 93.0,59.9 89.2,67.5 86.7,75.1 90.5,79.0 95.6,84.0 100.6,89.1 108.3,95.5 115.9,98.0 119.7,104.4 119.7,110.7 118.4,119.6 -16.6,179.9" fill="#fcdf97"/>
<polygon points="-1.2,77.7 1.3,77.7 7.0,79.0 13.4,82.8 21.0,83.4 27.3,79.0 33.7,82.8 40.0,86.6 47.0,91.0 52.7,85.3 55.3,84.7 59.1,89.1 59.1,92.9 55.3,95.5 50.2,96.7 46.4,101.8 40.0,108.2 33.7,108.8 27.3,106.9 21.0,103.1 17.2,106.9 13.4,110.1 7.0,109.4 1.3,110.7 -1.2,110.7" fill="#f6e3a4"/>
<polygon points="70.5,85.3 75.6,80.2 83.2,80.2 83.2,85.3 78.1,90.4 74.3,91.0" fill="#f6e3a4"/>
<polygon points="132.4,119.6 133.7,105.6 136.2,98.0 140.0,95.5 145.1,94.2 150.2,95.5 154.0,90.4 159.1,87.2 166.7,85.9 174.3,85.3 174.3,119.6" fill="#ede8c4"/>
<polygon points="152.7,119.6 154.0,108.2 156.5,101.8 161.6,100.5 170.5,99.3 174.3,99.3 174.3,119.6" fill="#e9ecd7"/>
<polygon points="36.1,113.4 38.4,109.9 45.4,108.8 53.6,101.8 61.8,98.3 68.8,96.5 75.8,101.2 82.8,94.8 87.5,85.4 89.8,84.8 94.5,86.6 99.1,91.3 103.8,98.3 108.5,101.8 112.0,106.4 113.1,111.1 110.8,115.8 108.5,119.3 108.5,133.3 36.1,133.3" fill="#fdd584"/>
<polygon points="43.1,116.9 45.4,109.9 52.4,105.3 59.4,102.9 68.8,101.8 75.8,104.1 82.8,99.4 87.5,92.4 89.8,90.1 94.5,91.3 99.1,98.3 101.5,106.4 103.8,113.4 102.6,118.1 101.5,133.3 43.1,133.3" fill="#fdcb7b"/>
<polygon points="51.2,116.9 53.6,112.3 59.4,108.8 67.6,106.4 75.8,108.8 81.6,105.3 86.3,98.3 89.8,95.3 95.6,97.1 98.0,105.3 99.1,115.8 98.5,133.3 51.2,133.3" fill="#fcc073"/>
<polygon points="55.9,116.9 61.8,111.1 68.8,109.9 76.9,112.3 82.8,109.9 87.5,101.8 89.8,99.4 94.5,100.6 96.8,109.9 96.8,121.6 96.2,133.3 55.9,133.3" fill="#fcb46a"/>
<polygon points="65.3,119.3 66.4,114.6 72.3,115.2 73.4,119.3" fill="#fba762"/>
<polygon points="86.4,125.9 86.9,116.9 89.9,115.4 92.9,117.4 93.9,125.9" fill="#fba762"/>
<polygon points="86.4,125.9 86.6,120.4 88.9,119.4 90.9,120.9 91.4,125.9" fill="#f99856"/>
<polygon points="-1.2,119.6 -1.2,110.7 1.3,110.7 7.0,109.4 13.4,110.1 13.4,119.6" fill="#fcdf97"/>
<path d="M0,171.0 L0.0,113.6 L7.3,113.6 L7.3,116.2 L13.0,116.2 L13.0,112.6 L20.3,112.6 L20.3,119.4 L27.0,119.4 L27.0,120.4 L32.7,120.4 L32.7,116.5 L39.5,116.5 L39.5,111.3 L46.3,111.3 L46.3,110.8 L53.4,110.8 L53.4,115.3 L59.4,115.3 L59.4,112.5 L66.5,112.5 L66.5,119.2 L72.4,119.2 L72.4,115.5 L79.5,115.5 L79.5,116.7 L86.4,116.7 L86.4,131.0 L92.2,131.0 L92.2,130.4 L98.9,130.4 L98.9,127.4 L105.3,127.4 L105.3,117.6 L118.5,117.6 L118.5,113.6 L125.5,113.6 L125.5,111.0 L132.5,111.0 L132.5,114.3 L138.5,114.3 L138.5,110.8 L145.3,110.8 L145.3,109.6 L152.5,109.6 L152.5,118.2 L158.4,118.2 L158.4,116.6 L164.8,116.6 L164.8,113.6 L171.7,113.6 L171.5,171.0 Z" fill="#bebebe"/>
</g>
<rect x="0" y="0" width="171.5" height="171.0" fill="none" stroke="#000" stroke-width="1.5"/>
<line x1="-6.2" y1="171.00" x2="0" y2="171.00" stroke="#000" stroke-width="1.5" stroke-linecap="round"/>
<text x="-14.6" y="175.20" text-anchor="end" class="yl">0</text>
<line x1="-6.2" y1="136.80" x2="0" y2="136.80" stroke="#000" stroke-width="1.5" stroke-linecap="round"/>
<text x="-14.6" y="141.00" text-anchor="end" class="yl">3</text>
<line x1="-6.2" y1="102.60" x2="0" y2="102.60" stroke="#000" stroke-width="1.5" stroke-linecap="round"/>
<text x="-14.6" y="106.80" text-anchor="end" class="yl">6</text>
<line x1="-6.2" y1="68.40" x2="0" y2="68.40" stroke="#000" stroke-width="1.5" stroke-linecap="round"/>
<text x="-14.6" y="72.60" text-anchor="end" class="yl">9</text>
<line x1="-6.2" y1="34.20" x2="0" y2="34.20" stroke="#000" stroke-width="1.5" stroke-linecap="round"/>
<text x="-14.6" y="38.40" text-anchor="end" class="yl">12</text>
<line x1="-6.2" y1="0.00" x2="0" y2="0.00" stroke="#000" stroke-width="1.5" stroke-linecap="round"/>
<text x="-14.6" y="4.20" text-anchor="end" class="yl">15</text>
<line x1="0.00" y1="171.0" x2="0.00" y2="177.3" stroke="#000" stroke-width="1.5" stroke-linecap="round"/>
<text x="0.00" y="195.5" text-anchor="middle" class="xl">77<tspan class="deg" dy="-5">o</tspan><tspan dy="5">E</tspan></text>
<line x1="34.30" y1="171.0" x2="34.30" y2="177.3" stroke="#000" stroke-width="1.5" stroke-linecap="round"/>
<text x="34.30" y="195.5" text-anchor="middle" class="xl">79<tspan class="deg" dy="-5">o</tspan><tspan dy="5">E</tspan></text>
<line x1="68.60" y1="171.0" x2="68.60" y2="177.3" stroke="#000" stroke-width="1.5" stroke-linecap="round"/>
<text x="68.60" y="195.5" text-anchor="middle" class="xl">80<tspan class="deg" dy="-5">o</tspan><tspan dy="5">E</tspan></text>
<line x1="102.90" y1="171.0" x2="102.90" y2="177.3" stroke="#000" stroke-width="1.5" stroke-linecap="round"/>
<text x="102.90" y="195.5" text-anchor="middle" class="xl">82<tspan class="deg" dy="-5">o</tspan><tspan dy="5">E</tspan></text>
<line x1="137.20" y1="171.0" x2="137.20" y2="177.3" stroke="#000" stroke-width="1.5" stroke-linecap="round"/>
<text x="137.20" y="195.5" text-anchor="middle" class="xl">84<tspan class="deg" dy="-5">o</tspan><tspan dy="5">E</tspan></text>
<line x1="171.50" y1="171.0" x2="171.50" y2="177.3" stroke="#000" stroke-width="1.5" stroke-linecap="round"/>
<text x="171.50" y="195.5" text-anchor="middle" class="xl">85<tspan class="deg" dy="-5">o</tspan><tspan dy="5">E</tspan></text>
<text x="0.2" y="-13" class="tt" textLength="139.0" lengthAdjust="spacingAndGlyphs">(d) 05 Feb-15 Feb</text>
<text transform="translate(-34.3,85.20) rotate(-90)" text-anchor="middle" class="hl" textLength="50" lengthAdjust="spacingAndGlyphs">Height (km)</text>
<rect x="3.70" y="207.0" width="3.96" height="9.3" fill="#3434a4"/>
<rect x="7.61" y="207.0" width="3.96" height="9.3" fill="#3c4cb0"/>
<rect x="11.53" y="207.0" width="3.96" height="9.3" fill="#4058b6"/>
<rect x="15.44" y="207.0" width="3.96" height="9.3" fill="#466abf"/>
<rect x="19.36" y="207.0" width="3.96" height="9.3" fill="#4c78c6"/>
<rect x="23.27" y="207.0" width="3.96" height="9.3" fill="#5386cd"/>
<rect x="27.19" y="207.0" width="3.96" height="9.3" fill="#5a93d4"/>
<rect x="31.10" y="207.0" width="3.96" height="9.3" fill="#63a0d9"/>
<rect x="35.01" y="207.0" width="3.96" height="9.3" fill="#6eabde"/>
<rect x="38.93" y="207.0" width="3.96" height="9.3" fill="#79b6e2"/>
<rect x="42.84" y="207.0" width="3.96" height="9.3" fill="#86c0e6"/>
<rect x="46.76" y="207.0" width="3.96" height="9.3" fill="#92c9ea"/>
<rect x="50.67" y="207.0" width="3.96" height="9.3" fill="#9fd2ee"/>
<rect x="54.59" y="207.0" width="3.96" height="9.3" fill="#acdaf1"/>
<rect x="58.50" y="207.0" width="3.96" height="9.3" fill="#b9e2f4"/>
<rect x="62.41" y="207.0" width="3.96" height="9.3" fill="#c5e9f6"/>
<rect x="66.33" y="207.0" width="3.96" height="9.3" fill="#d0eef7"/>
<rect x="70.24" y="207.0" width="3.96" height="9.3" fill="#daf1f6"/>
<rect x="74.16" y="207.0" width="3.96" height="9.3" fill="#e2f4f3"/>
<rect x="78.07" y="207.0" width="3.96" height="9.3" fill="#e7f3ea"/>
<rect x="81.99" y="207.0" width="3.96" height="9.3" fill="#e9ecd7"/>
<rect x="85.90" y="207.0" width="3.96" height="9.3" fill="#ede8c4"/>
<rect x="89.81" y="207.0" width="3.96" height="9.3" fill="#f6e3a4"/>
<rect x="93.73" y="207.0" width="3.96" height="9.3" fill="#fcdf97"/>
<rect x="97.64" y="207.0" width="3.96" height="9.3" fill="#fdd584"/>
<rect x="101.56" y="207.0" width="3.96" height="9.3" fill="#fdcb7b"/>
<rect x="105.47" y="207.0" width="3.96" height="9.3" fill="#fcc073"/>
<rect x="109.39" y="207.0" width="3.96" height="9.3" fill="#fcb46a"/>
<rect x="113.30" y="207.0" width="3.96" height="9.3" fill="#fba762"/>
<rect x="117.21" y="207.0" width="3.96" height="9.3" fill="#f99856"/>
<rect x="121.13" y="207.0" width="3.96" height="9.3" fill="#f4854a"/>
<rect x="125.04" y="207.0" width="3.96" height="9.3" fill="#f57a44"/>
<rect x="128.96" y="207.0" width="3.96" height="9.3" fill="#f26c3c"/>
<rect x="132.87" y="207.0" width="3.96" height="9.3" fill="#ee5e34"/>
<rect x="136.79" y="207.0" width="3.96" height="9.3" fill="#ea502e"/>
<rect x="140.70" y="207.0" width="3.96" height="9.3" fill="#e4442a"/>
<rect x="144.61" y="207.0" width="3.96" height="9.3" fill="#dc3828"/>
<rect x="148.53" y="207.0" width="3.96" height="9.3" fill="#d22c26"/>
<rect x="152.44" y="207.0" width="3.96" height="9.3" fill="#c82228"/>
<rect x="156.36" y="207.0" width="3.96" height="9.3" fill="#bc1628"/>
<rect x="160.27" y="207.0" width="3.96" height="9.3" fill="#b00c28"/>
<rect x="164.19" y="207.0" width="3.96" height="9.3" fill="#a80024"/>
<line x1="3.70" y1="207.0" x2="3.70" y2="216.3" stroke="#000" stroke-width="0.9"/>
<line x1="7.61" y1="207.0" x2="7.61" y2="216.3" stroke="#000" stroke-width="0.9"/>
<line x1="11.53" y1="207.0" x2="11.53" y2="216.3" stroke="#000" stroke-width="0.9"/>
<line x1="15.44" y1="207.0" x2="15.44" y2="216.3" stroke="#000" stroke-width="0.9"/>
<line x1="19.36" y1="207.0" x2="19.36" y2="216.3" stroke="#000" stroke-width="0.9"/>
<line x1="23.27" y1="207.0" x2="23.27" y2="216.3" stroke="#000" stroke-width="0.9"/>
<line x1="27.19" y1="207.0" x2="27.19" y2="216.3" stroke="#000" stroke-width="0.9"/>
<line x1="31.10" y1="207.0" x2="31.10" y2="216.3" stroke="#000" stroke-width="0.9"/>
<line x1="35.01" y1="207.0" x2="35.01" y2="216.3" stroke="#000" stroke-width="0.9"/>
<line x1="38.93" y1="207.0" x2="38.93" y2="216.3" stroke="#000" stroke-width="0.9"/>
<line x1="42.84" y1="207.0" x2="42.84" y2="216.3" stroke="#000" stroke-width="0.9"/>
<line x1="46.76" y1="207.0" x2="46.76" y2="216.3" stroke="#000" stroke-width="0.9"/>
<line x1="50.67" y1="207.0" x2="50.67" y2="216.3" stroke="#000" stroke-width="0.9"/>
<line x1="54.59" y1="207.0" x2="54.59" y2="216.3" stroke="#000" stroke-width="0.9"/>
<line x1="58.50" y1="207.0" x2="58.50" y2="216.3" stroke="#000" stroke-width="0.9"/>
<line x1="62.41" y1="207.0" x2="62.41" y2="216.3" stroke="#000" stroke-width="0.9"/>
<line x1="66.33" y1="207.0" x2="66.33" y2="216.3" stroke="#000" stroke-width="0.9"/>
<line x1="70.24" y1="207.0" x2="70.24" y2="216.3" stroke="#000" stroke-width="0.9"/>
<line x1="74.16" y1="207.0" x2="74.16" y2="216.3" stroke="#000" stroke-width="0.9"/>
<line x1="78.07" y1="207.0" x2="78.07" y2="216.3" stroke="#000" stroke-width="0.9"/>
<line x1="81.99" y1="207.0" x2="81.99" y2="216.3" stroke="#000" stroke-width="0.9"/>
<line x1="85.90" y1="207.0" x2="85.90" y2="216.3" stroke="#000" stroke-width="0.9"/>
<line x1="89.81" y1="207.0" x2="89.81" y2="216.3" stroke="#000" stroke-width="0.9"/>
<line x1="93.73" y1="207.0" x2="93.73" y2="216.3" stroke="#000" stroke-width="0.9"/>
<line x1="97.64" y1="207.0" x2="97.64" y2="216.3" stroke="#000" stroke-width="0.9"/>
<line x1="101.56" y1="207.0" x2="101.56" y2="216.3" stroke="#000" stroke-width="0.9"/>
<line x1="105.47" y1="207.0" x2="105.47" y2="216.3" stroke="#000" stroke-width="0.9"/>
<line x1="109.39" y1="207.0" x2="109.39" y2="216.3" stroke="#000" stroke-width="0.9"/>
<line x1="113.30" y1="207.0" x2="113.30" y2="216.3" stroke="#000" stroke-width="0.9"/>
<line x1="117.21" y1="207.0" x2="117.21" y2="216.3" stroke="#000" stroke-width="0.9"/>
<line x1="121.13" y1="207.0" x2="121.13" y2="216.3" stroke="#000" stroke-width="0.9"/>
<line x1="125.04" y1="207.0" x2="125.04" y2="216.3" stroke="#000" stroke-width="0.9"/>
<line x1="128.96" y1="207.0" x2="128.96" y2="216.3" stroke="#000" stroke-width="0.9"/>
<line x1="132.87" y1="207.0" x2="132.87" y2="216.3" stroke="#000" stroke-width="0.9"/>
<line x1="136.79" y1="207.0" x2="136.79" y2="216.3" stroke="#000" stroke-width="0.9"/>
<line x1="140.70" y1="207.0" x2="140.70" y2="216.3" stroke="#000" stroke-width="0.9"/>
<line x1="144.61" y1="207.0" x2="144.61" y2="216.3" stroke="#000" stroke-width="0.9"/>
<line x1="148.53" y1="207.0" x2="148.53" y2="216.3" stroke="#000" stroke-width="0.9"/>
<line x1="152.44" y1="207.0" x2="152.44" y2="216.3" stroke="#000" stroke-width="0.9"/>
<line x1="156.36" y1="207.0" x2="156.36" y2="216.3" stroke="#000" stroke-width="0.9"/>
<line x1="160.27" y1="207.0" x2="160.27" y2="216.3" stroke="#000" stroke-width="0.9"/>
<line x1="164.19" y1="207.0" x2="164.19" y2="216.3" stroke="#000" stroke-width="0.9"/>
<line x1="168.10" y1="207.0" x2="168.10" y2="216.3" stroke="#000" stroke-width="0.9"/>
<rect x="3.7" y="207.0" width="164.4" height="9.3" fill="none" stroke="#000" stroke-width="0.9"/>
<text transform="translate(15.44,231.60) scale(1.15,1)" text-anchor="middle" class="cl">-.9</text>
<text transform="translate(38.93,231.60) scale(1.15,1)" text-anchor="middle" class="cl">-.6</text>
<text transform="translate(62.41,231.60) scale(1.15,1)" text-anchor="middle" class="cl">-.3</text>
<text transform="translate(85.90,231.60) scale(1.15,1)" text-anchor="middle" class="cl">0</text>
<text transform="translate(109.39,231.60) scale(1.15,1)" text-anchor="middle" class="cl">.3</text>
<text transform="translate(132.87,231.60) scale(1.15,1)" text-anchor="middle" class="cl">.6</text>
<text transform="translate(156.36,231.60) scale(1.15,1)" text-anchor="middle" class="cl">.9</text>
</g>
<g transform="translate(386.4,320.1)">
<clipPath id="clipe"><rect x="0" y="0" width="171.5" height="171.0"/></clipPath>
<g clip-path="url(#clipe)">
<rect x="-2" y="-2" width="175.5" height="175.0" fill="#ede8c4"/>
<polygon points="-1.0,11.3 1.5,11.3 6.6,12.0 13.6,17.7 19.9,19.0 26.9,17.0 33.9,22.1 41.5,26.6 47.9,30.4 54.2,27.8 61.8,32.3 68.8,29.7 75.8,32.3 82.2,35.5 86.6,33.6 93.6,28.8 99.5,29.8 105.5,33.8 111.5,41.8 121.4,46.7 125.4,51.7 131.4,58.7 143.3,58.7 151.3,66.6 157.3,53.7 161.3,54.7 166.2,61.7 163.2,69.6 159.3,77.6 151.3,81.6 141.3,85.6 133.4,89.5 129.4,93.5 121.4,91.5 115.5,88.5 109.5,87.5 103.5,81.6 100.5,85.6 97.5,95.5 96.5,105.5 95.6,113.4 95.6,125.4 -6.4,124.9" fill="#f6e3a4"/>
<polygon points="-1.0,36.7 1.5,36.7 6.6,37.4 13.6,41.8 21.2,41.8 27.5,41.8 32.6,45.6 28.6,42.8 37.3,48.6 47.4,55.8 57.6,61.6 66.3,61.6 73.5,64.5 77.9,71.8 80.8,80.5 80.1,87.7 76.4,95.0 70.6,100.8 63.4,103.7 56.1,105.1 53.2,108.0 54.7,112.4 54.7,126.9 -6.4,124.9" fill="#fcdf97"/>
<polygon points="-1.1,48.6 -0.4,48.6 5.4,50.0 12.6,54.4 21.3,54.4 28.6,58.7 35.8,66.0 43.1,71.8 50.3,77.6 54.7,83.4 54.0,89.2 50.3,95.0 43.1,97.9 33.9,97.9 28.1,97.1 23.3,99.6 22.4,102.8 24.1,106.9 28.1,109.4 33.9,111.0 38.8,111.8 40.6,124.9 -6.4,124.9" fill="#fdd584"/>
<polygon points="-1.1,55.8 -0.4,55.8 6.8,58.7 14.1,63.1 21.3,67.4 28.6,73.2 34.4,77.6 38.0,81.9 37.3,87.7 32.9,92.1 27.1,95.0 21.3,95.0 14.1,96.4 8.3,97.9 -1.1,99.3" fill="#fdcb7b"/>
<polygon points="-1.1,60.9 -0.4,60.9 5.4,63.1 11.2,67.4 18.4,71.8 22.8,76.1 25.0,80.5 22.8,86.3 17.0,89.2 11.2,89.9 5.4,92.1 -1.1,93.5" fill="#fcc073"/>
<polygon points="-1.1,67.4 -0.4,67.4 3.9,68.9 8.3,73.2 11.2,77.6 11.2,81.9 8.3,86.3 3.9,87.7 -1.1,88.5" fill="#fcb46a"/>
<polygon points="3.9,108.0 4.7,105.1 6.8,104.9 8.6,106.6 7.6,108.3" fill="#fcdf97"/>
<polygon points="19.9,121.1 21.3,116.0 27.1,114.6 32.9,116.7 33.7,121.1" fill="#fcc073"/>
<polygon points="21.4,121.9 21.6,116.9 24.1,115.9 26.8,118.4 27.1,121.9" fill="#fcb46a"/>
<polygon points="7.8,109.9 9.6,107.7 12.6,107.5 15.1,108.9 13.6,111.0 9.6,111.2" fill="#fcdf97"/>
<polygon points="84.2,126.9 84.2,116.0 85.8,108.6 89.1,104.6 92.3,107.0 94.0,111.9 94.0,117.6 93.2,122.5 92.3,130.6 84.2,130.6" fill="#fcdf97"/>
<polygon points="87.0,130.6 87.4,122.5 88.7,120.9 90.7,124.1 91.5,130.6" fill="#fdd584"/>
<polygon points="99.1,126.9 99.6,119.9 101.6,117.4 105.1,117.4 105.6,126.9" fill="#e9ecd7"/>
<polygon points="155.3,121.4 156.3,109.4 161.3,107.5 173.2,108.4 173.2,121.4" fill="#e9ecd7"/>
<path d="M0,171.0 L0.0,113.6 L7.3,113.6 L7.3,116.2 L13.0,116.2 L13.0,112.6 L20.3,112.6 L20.3,119.4 L27.0,119.4 L27.0,120.4 L32.7,120.4 L32.7,116.5 L39.5,116.5 L39.5,111.3 L46.3,111.3 L46.3,110.8 L53.4,110.8 L53.4,115.3 L59.4,115.3 L59.4,112.5 L66.5,112.5 L66.5,119.2 L72.4,119.2 L72.4,115.5 L79.5,115.5 L79.5,116.7 L86.4,116.7 L86.4,131.0 L92.2,131.0 L92.2,130.4 L98.9,130.4 L98.9,127.4 L105.3,127.4 L105.3,117.6 L118.5,117.6 L118.5,113.6 L125.5,113.6 L125.5,111.0 L132.5,111.0 L132.5,114.3 L138.5,114.3 L138.5,110.8 L145.3,110.8 L145.3,109.6 L152.5,109.6 L152.5,118.2 L158.4,118.2 L158.4,116.6 L164.8,116.6 L164.8,113.6 L171.7,113.6 L171.5,171.0 Z" fill="#bebebe"/>
</g>
<rect x="0" y="0" width="171.5" height="171.0" fill="none" stroke="#000" stroke-width="1.5"/>
<line x1="-6.2" y1="171.00" x2="0" y2="171.00" stroke="#000" stroke-width="1.5" stroke-linecap="round"/>
<text x="-14.6" y="175.20" text-anchor="end" class="yl">0</text>
<line x1="-6.2" y1="136.80" x2="0" y2="136.80" stroke="#000" stroke-width="1.5" stroke-linecap="round"/>
<text x="-14.6" y="141.00" text-anchor="end" class="yl">3</text>
<line x1="-6.2" y1="102.60" x2="0" y2="102.60" stroke="#000" stroke-width="1.5" stroke-linecap="round"/>
<text x="-14.6" y="106.80" text-anchor="end" class="yl">6</text>
<line x1="-6.2" y1="68.40" x2="0" y2="68.40" stroke="#000" stroke-width="1.5" stroke-linecap="round"/>
<text x="-14.6" y="72.60" text-anchor="end" class="yl">9</text>
<line x1="-6.2" y1="34.20" x2="0" y2="34.20" stroke="#000" stroke-width="1.5" stroke-linecap="round"/>
<text x="-14.6" y="38.40" text-anchor="end" class="yl">12</text>
<line x1="-6.2" y1="0.00" x2="0" y2="0.00" stroke="#000" stroke-width="1.5" stroke-linecap="round"/>
<text x="-14.6" y="4.20" text-anchor="end" class="yl">15</text>
<line x1="0.00" y1="171.0" x2="0.00" y2="177.3" stroke="#000" stroke-width="1.5" stroke-linecap="round"/>
<text x="0.00" y="195.5" text-anchor="middle" class="xl">77<tspan class="deg" dy="-5">o</tspan><tspan dy="5">E</tspan></text>
<line x1="34.30" y1="171.0" x2="34.30" y2="177.3" stroke="#000" stroke-width="1.5" stroke-linecap="round"/>
<text x="34.30" y="195.5" text-anchor="middle" class="xl">79<tspan class="deg" dy="-5">o</tspan><tspan dy="5">E</tspan></text>
<line x1="68.60" y1="171.0" x2="68.60" y2="177.3" stroke="#000" stroke-width="1.5" stroke-linecap="round"/>
<text x="68.60" y="195.5" text-anchor="middle" class="xl">80<tspan class="deg" dy="-5">o</tspan><tspan dy="5">E</tspan></text>
<line x1="102.90" y1="171.0" x2="102.90" y2="177.3" stroke="#000" stroke-width="1.5" stroke-linecap="round"/>
<text x="102.90" y="195.5" text-anchor="middle" class="xl">82<tspan class="deg" dy="-5">o</tspan><tspan dy="5">E</tspan></text>
<line x1="137.20" y1="171.0" x2="137.20" y2="177.3" stroke="#000" stroke-width="1.5" stroke-linecap="round"/>
<text x="137.20" y="195.5" text-anchor="middle" class="xl">84<tspan class="deg" dy="-5">o</tspan><tspan dy="5">E</tspan></text>
<line x1="171.50" y1="171.0" x2="171.50" y2="177.3" stroke="#000" stroke-width="1.5" stroke-linecap="round"/>
<text x="171.50" y="195.5" text-anchor="middle" class="xl">85<tspan class="deg" dy="-5">o</tspan><tspan dy="5">E</tspan></text>
<text x="0.2" y="-13" class="tt" textLength="139.0" lengthAdjust="spacingAndGlyphs">(e) 16 Feb-25 Feb</text>
<text transform="translate(-34.3,85.20) rotate(-90)" text-anchor="middle" class="hl" textLength="50" lengthAdjust="spacingAndGlyphs">Height (km)</text>
<rect x="3.70" y="207.0" width="3.96" height="9.3" fill="#3434a4"/>
<rect x="7.61" y="207.0" width="3.96" height="9.3" fill="#3c4cb0"/>
<rect x="11.53" y="207.0" width="3.96" height="9.3" fill="#4058b6"/>
<rect x="15.44" y="207.0" width="3.96" height="9.3" fill="#466abf"/>
<rect x="19.36" y="207.0" width="3.96" height="9.3" fill="#4c78c6"/>
<rect x="23.27" y="207.0" width="3.96" height="9.3" fill="#5386cd"/>
<rect x="27.19" y="207.0" width="3.96" height="9.3" fill="#5a93d4"/>
<rect x="31.10" y="207.0" width="3.96" height="9.3" fill="#63a0d9"/>
<rect x="35.01" y="207.0" width="3.96" height="9.3" fill="#6eabde"/>
<rect x="38.93" y="207.0" width="3.96" height="9.3" fill="#79b6e2"/>
<rect x="42.84" y="207.0" width="3.96" height="9.3" fill="#86c0e6"/>
<rect x="46.76" y="207.0" width="3.96" height="9.3" fill="#92c9ea"/>
<rect x="50.67" y="207.0" width="3.96" height="9.3" fill="#9fd2ee"/>
<rect x="54.59" y="207.0" width="3.96" height="9.3" fill="#acdaf1"/>
<rect x="58.50" y="207.0" width="3.96" height="9.3" fill="#b9e2f4"/>
<rect x="62.41" y="207.0" width="3.96" height="9.3" fill="#c5e9f6"/>
<rect x="66.33" y="207.0" width="3.96" height="9.3" fill="#d0eef7"/>
<rect x="70.24" y="207.0" width="3.96" height="9.3" fill="#daf1f6"/>
<rect x="74.16" y="207.0" width="3.96" height="9.3" fill="#e2f4f3"/>
<rect x="78.07" y="207.0" width="3.96" height="9.3" fill="#e7f3ea"/>
<rect x="81.99" y="207.0" width="3.96" height="9.3" fill="#e9ecd7"/>
<rect x="85.90" y="207.0" width="3.96" height="9.3" fill="#ede8c4"/>
<rect x="89.81" y="207.0" width="3.96" height="9.3" fill="#f6e3a4"/>
<rect x="93.73" y="207.0" width="3.96" height="9.3" fill="#fcdf97"/>
<rect x="97.64" y="207.0" width="3.96" height="9.3" fill="#fdd584"/>
<rect x="101.56" y="207.0" width="3.96" height="9.3" fill="#fdcb7b"/>
<rect x="105.47" y="207.0" width="3.96" height="9.3" fill="#fcc073"/>
<rect x="109.39" y="207.0" width="3.96" height="9.3" fill="#fcb46a"/>
<rect x="113.30" y="207.0" width="3.96" height="9.3" fill="#fba762"/>
<rect x="117.21" y="207.0" width="3.96" height="9.3" fill="#f99856"/>
<rect x="121.13" y="207.0" width="3.96" height="9.3" fill="#f4854a"/>
<rect x="125.04" y="207.0" width="3.96" height="9.3" fill="#f57a44"/>
<rect x="128.96" y="207.0" width="3.96" height="9.3" fill="#f26c3c"/>
<rect x="132.87" y="207.0" width="3.96" height="9.3" fill="#ee5e34"/>
<rect x="136.79" y="207.0" width="3.96" height="9.3" fill="#ea502e"/>
<rect x="140.70" y="207.0" width="3.96" height="9.3" fill="#e4442a"/>
<rect x="144.61" y="207.0" width="3.96" height="9.3" fill="#dc3828"/>
<rect x="148.53" y="207.0" width="3.96" height="9.3" fill="#d22c26"/>
<rect x="152.44" y="207.0" width="3.96" height="9.3" fill="#c82228"/>
<rect x="156.36" y="207.0" width="3.96" height="9.3" fill="#bc1628"/>
<rect x="160.27" y="207.0" width="3.96" height="9.3" fill="#b00c28"/>
<rect x="164.19" y="207.0" width="3.96" height="9.3" fill="#a80024"/>
<line x1="3.70" y1="207.0" x2="3.70" y2="216.3" stroke="#000" stroke-width="0.9"/>
<line x1="7.61" y1="207.0" x2="7.61" y2="216.3" stroke="#000" stroke-width="0.9"/>
<line x1="11.53" y1="207.0" x2="11.53" y2="216.3" stroke="#000" stroke-width="0.9"/>
<line x1="15.44" y1="207.0" x2="15.44" y2="216.3" stroke="#000" stroke-width="0.9"/>
<line x1="19.36" y1="207.0" x2="19.36" y2="216.3" stroke="#000" stroke-width="0.9"/>
<line x1="23.27" y1="207.0" x2="23.27" y2="216.3" stroke="#000" stroke-width="0.9"/>
<line x1="27.19" y1="207.0" x2="27.19" y2="216.3" stroke="#000" stroke-width="0.9"/>
<line x1="31.10" y1="207.0" x2="31.10" y2="216.3" stroke="#000" stroke-width="0.9"/>
<line x1="35.01" y1="207.0" x2="35.01" y2="216.3" stroke="#000" stroke-width="0.9"/>
<line x1="38.93" y1="207.0" x2="38.93" y2="216.3" stroke="#000" stroke-width="0.9"/>
<line x1="42.84" y1="207.0" x2="42.84" y2="216.3" stroke="#000" stroke-width="0.9"/>
<line x1="46.76" y1="207.0" x2="46.76" y2="216.3" stroke="#000" stroke-width="0.9"/>
<line x1="50.67" y1="207.0" x2="50.67" y2="216.3" stroke="#000" stroke-width="0.9"/>
<line x1="54.59" y1="207.0" x2="54.59" y2="216.3" stroke="#000" stroke-width="0.9"/>
<line x1="58.50" y1="207.0" x2="58.50" y2="216.3" stroke="#000" stroke-width="0.9"/>
<line x1="62.41" y1="207.0" x2="62.41" y2="216.3" stroke="#000" stroke-width="0.9"/>
<line x1="66.33" y1="207.0" x2="66.33" y2="216.3" stroke="#000" stroke-width="0.9"/>
<line x1="70.24" y1="207.0" x2="70.24" y2="216.3" stroke="#000" stroke-width="0.9"/>
<line x1="74.16" y1="207.0" x2="74.16" y2="216.3" stroke="#000" stroke-width="0.9"/>
<line x1="78.07" y1="207.0" x2="78.07" y2="216.3" stroke="#000" stroke-width="0.9"/>
<line x1="81.99" y1="207.0" x2="81.99" y2="216.3" stroke="#000" stroke-width="0.9"/>
<line x1="85.90" y1="207.0" x2="85.90" y2="216.3" stroke="#000" stroke-width="0.9"/>
<line x1="89.81" y1="207.0" x2="89.81" y2="216.3" stroke="#000" stroke-width="0.9"/>
<line x1="93.73" y1="207.0" x2="93.73" y2="216.3" stroke="#000" stroke-width="0.9"/>
<line x1="97.64" y1="207.0" x2="97.64" y2="216.3" stroke="#000" stroke-width="0.9"/>
<line x1="101.56" y1="207.0" x2="101.56" y2="216.3" stroke="#000" stroke-width="0.9"/>
<line x1="105.47" y1="207.0" x2="105.47" y2="216.3" stroke="#000" stroke-width="0.9"/>
<line x1="109.39" y1="207.0" x2="109.39" y2="216.3" stroke="#000" stroke-width="0.9"/>
<line x1="113.30" y1="207.0" x2="113.30" y2="216.3" stroke="#000" stroke-width="0.9"/>
<line x1="117.21" y1="207.0" x2="117.21" y2="216.3" stroke="#000" stroke-width="0.9"/>
<line x1="121.13" y1="207.0" x2="121.13" y2="216.3" stroke="#000" stroke-width="0.9"/>
<line x1="125.04" y1="207.0" x2="125.04" y2="216.3" stroke="#000" stroke-width="0.9"/>
<line x1="128.96" y1="207.0" x2="128.96" y2="216.3" stroke="#000" stroke-width="0.9"/>
<line x1="132.87" y1="207.0" x2="132.87" y2="216.3" stroke="#000" stroke-width="0.9"/>
<line x1="136.79" y1="207.0" x2="136.79" y2="216.3" stroke="#000" stroke-width="0.9"/>
<line x1="140.70" y1="207.0" x2="140.70" y2="216.3" stroke="#000" stroke-width="0.9"/>
<line x1="144.61" y1="207.0" x2="144.61" y2="216.3" stroke="#000" stroke-width="0.9"/>
<line x1="148.53" y1="207.0" x2="148.53" y2="216.3" stroke="#000" stroke-width="0.9"/>
<line x1="152.44" y1="207.0" x2="152.44" y2="216.3" stroke="#000" stroke-width="0.9"/>
<line x1="156.36" y1="207.0" x2="156.36" y2="216.3" stroke="#000" stroke-width="0.9"/>
<line x1="160.27" y1="207.0" x2="160.27" y2="216.3" stroke="#000" stroke-width="0.9"/>
<line x1="164.19" y1="207.0" x2="164.19" y2="216.3" stroke="#000" stroke-width="0.9"/>
<line x1="168.10" y1="207.0" x2="168.10" y2="216.3" stroke="#000" stroke-width="0.9"/>
<rect x="3.7" y="207.0" width="164.4" height="9.3" fill="none" stroke="#000" stroke-width="0.9"/>
<text transform="translate(15.44,231.60) scale(1.15,1)" text-anchor="middle" class="cl">-.9</text>
<text transform="translate(38.93,231.60) scale(1.15,1)" text-anchor="middle" class="cl">-.6</text>
<text transform="translate(62.41,231.60) scale(1.15,1)" text-anchor="middle" class="cl">-.3</text>
<text transform="translate(85.90,231.60) scale(1.15,1)" text-anchor="middle" class="cl">0</text>
<text transform="translate(109.39,231.60) scale(1.15,1)" text-anchor="middle" class="cl">.3</text>
<text transform="translate(132.87,231.60) scale(1.15,1)" text-anchor="middle" class="cl">.6</text>
<text transform="translate(156.36,231.60) scale(1.15,1)" text-anchor="middle" class="cl">.9</text>
</g>
</svg>
</body></html>
